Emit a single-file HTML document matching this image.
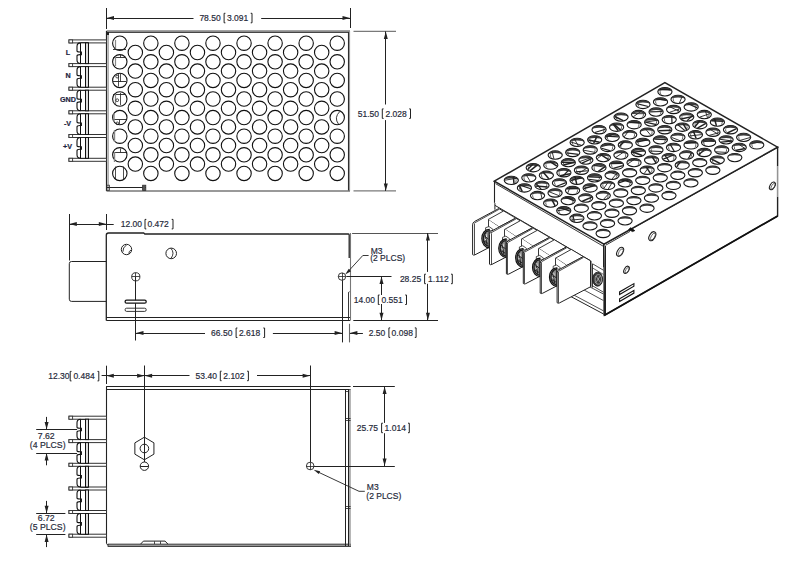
<!DOCTYPE html>
<html><head><meta charset="utf-8"><style>
html,body{margin:0;padding:0;background:#fff;}
svg{display:block;font-family:"Liberation Sans", sans-serif;}
</style></head><body>
<svg width="809" height="564" viewBox="0 0 809 564">
<rect width="809" height="564" fill="#fff"/>
<line x1="106.50" y1="8.00" x2="106.50" y2="29.00" stroke="#222" stroke-width="1" />
<line x1="350.50" y1="8.00" x2="350.50" y2="28.00" stroke="#222" stroke-width="1" />
<line x1="106.50" y1="18.50" x2="193.50" y2="18.50" stroke="#222" stroke-width="1.0" />
<line x1="261.20" y1="18.50" x2="350.00" y2="18.50" stroke="#222" stroke-width="1.0" />
<path d="M106.50,18.10 L114.00,16.10 L114.00,20.10 Z" fill="#222"/>
<path d="M350.00,18.10 L342.50,20.10 L342.50,16.10 Z" fill="#222"/>
<text x="199.40" y="20.90" font-size="8.5" text-anchor="start" font-weight="normal" fill="#262a3a" stroke="#262a3a" stroke-width="0.18">78.50</text>
<path d="M225.40,13.30 H224.10 V22.80 H225.40" fill="none" stroke="#222" stroke-width="1.0" />
<text x="227.00" y="20.90" font-size="8.5" text-anchor="start" font-weight="normal" fill="#262a3a" stroke="#262a3a" stroke-width="0.18">3.091</text>
<path d="M250.70,13.30 H252.00 V22.80 H250.70" fill="none" stroke="#222" stroke-width="1.0" />
<line x1="353.50" y1="31.40" x2="396.00" y2="31.40" stroke="#7a7a7a" stroke-width="1.4" />
<line x1="353.50" y1="190.90" x2="396.00" y2="190.90" stroke="#7a7a7a" stroke-width="1.4" />
<line x1="385.50" y1="31.40" x2="385.50" y2="104.50" stroke="#222" stroke-width="1.0" />
<line x1="385.50" y1="120.10" x2="385.50" y2="190.90" stroke="#222" stroke-width="1.0" />
<path d="M385.80,31.40 L387.80,38.90 L383.80,38.90 Z" fill="#222"/>
<path d="M385.80,190.90 L383.80,183.40 L387.80,183.40 Z" fill="#222"/>
<text x="357.80" y="116.50" font-size="8.5" text-anchor="start" font-weight="normal" fill="#262a3a" stroke="#262a3a" stroke-width="0.18">51.50</text>
<path d="M383.60,108.90 H382.30 V118.40 H383.60" fill="none" stroke="#222" stroke-width="1.0" />
<text x="385.50" y="116.50" font-size="8.5" text-anchor="start" font-weight="normal" fill="#262a3a" stroke="#262a3a" stroke-width="0.18">2.028</text>
<path d="M409.20,108.90 H410.50 V118.40 H409.20" fill="none" stroke="#222" stroke-width="1.0" />
<rect x="106.5" y="30.2" width="243.5" height="2.0" fill="#8c8c8c"/>
<line x1="106.50" y1="32.50" x2="350.00" y2="32.50" stroke="#333" stroke-width="0.9" />
<line x1="106.50" y1="31.00" x2="106.50" y2="191.00" stroke="#222" stroke-width="1.2" />
<line x1="108.10" y1="33.00" x2="108.10" y2="190.00" stroke="#999" stroke-width="1.3" />
<line x1="348.50" y1="32.00" x2="348.50" y2="191.00" stroke="#222" stroke-width="1.1" />
<line x1="349.50" y1="31.00" x2="349.50" y2="191.00" stroke="#999" stroke-width="1.2" />
<line x1="106.50" y1="190.90" x2="350.00" y2="190.90" stroke="#777" stroke-width="1.5" />
<rect x="106" y="32" width="3" height="3" fill="#222"/>
<line x1="107.00" y1="187.50" x2="146.00" y2="187.50" stroke="#222" stroke-width="1.0" />
<rect x="106.8" y="185.2" width="2.6" height="5.4" fill="none" stroke="#333" stroke-width="0.8"/>
<rect x="142.6" y="185.2" width="3.2" height="5.4" fill="#555" stroke="#333" stroke-width="0.8"/>
<circle cx="119.80" cy="43.20" r="7.2" fill="none" stroke="#111" stroke-width="1.1"/>
<circle cx="119.80" cy="61.80" r="7.2" fill="none" stroke="#111" stroke-width="1.1"/>
<circle cx="119.80" cy="80.40" r="7.2" fill="none" stroke="#111" stroke-width="1.1"/>
<circle cx="119.80" cy="99.00" r="7.2" fill="none" stroke="#111" stroke-width="1.1"/>
<circle cx="119.80" cy="117.60" r="7.2" fill="none" stroke="#111" stroke-width="1.1"/>
<circle cx="119.80" cy="136.20" r="7.2" fill="none" stroke="#111" stroke-width="1.1"/>
<circle cx="119.80" cy="154.80" r="7.2" fill="none" stroke="#111" stroke-width="1.1"/>
<circle cx="119.80" cy="173.40" r="7.2" fill="none" stroke="#111" stroke-width="1.1"/>
<circle cx="135.33" cy="52.50" r="7.2" fill="none" stroke="#111" stroke-width="1.1"/>
<circle cx="135.33" cy="71.10" r="7.2" fill="none" stroke="#111" stroke-width="1.1"/>
<circle cx="135.33" cy="89.70" r="7.2" fill="none" stroke="#111" stroke-width="1.1"/>
<circle cx="135.33" cy="108.30" r="7.2" fill="none" stroke="#111" stroke-width="1.1"/>
<circle cx="135.33" cy="126.90" r="7.2" fill="none" stroke="#111" stroke-width="1.1"/>
<circle cx="135.33" cy="145.50" r="7.2" fill="none" stroke="#111" stroke-width="1.1"/>
<circle cx="135.33" cy="164.10" r="7.2" fill="none" stroke="#111" stroke-width="1.1"/>
<circle cx="150.86" cy="43.20" r="7.2" fill="none" stroke="#111" stroke-width="1.1"/>
<circle cx="150.86" cy="61.80" r="7.2" fill="none" stroke="#111" stroke-width="1.1"/>
<circle cx="150.86" cy="80.40" r="7.2" fill="none" stroke="#111" stroke-width="1.1"/>
<circle cx="150.86" cy="99.00" r="7.2" fill="none" stroke="#111" stroke-width="1.1"/>
<circle cx="150.86" cy="117.60" r="7.2" fill="none" stroke="#111" stroke-width="1.1"/>
<circle cx="150.86" cy="136.20" r="7.2" fill="none" stroke="#111" stroke-width="1.1"/>
<circle cx="150.86" cy="154.80" r="7.2" fill="none" stroke="#111" stroke-width="1.1"/>
<circle cx="150.86" cy="173.40" r="7.2" fill="none" stroke="#111" stroke-width="1.1"/>
<circle cx="166.39" cy="52.50" r="7.2" fill="none" stroke="#111" stroke-width="1.1"/>
<circle cx="166.39" cy="71.10" r="7.2" fill="none" stroke="#111" stroke-width="1.1"/>
<circle cx="166.39" cy="89.70" r="7.2" fill="none" stroke="#111" stroke-width="1.1"/>
<circle cx="166.39" cy="108.30" r="7.2" fill="none" stroke="#111" stroke-width="1.1"/>
<circle cx="166.39" cy="126.90" r="7.2" fill="none" stroke="#111" stroke-width="1.1"/>
<circle cx="166.39" cy="145.50" r="7.2" fill="none" stroke="#111" stroke-width="1.1"/>
<circle cx="166.39" cy="164.10" r="7.2" fill="none" stroke="#111" stroke-width="1.1"/>
<circle cx="181.92" cy="43.20" r="7.2" fill="none" stroke="#111" stroke-width="1.1"/>
<circle cx="181.92" cy="61.80" r="7.2" fill="none" stroke="#111" stroke-width="1.1"/>
<circle cx="181.92" cy="80.40" r="7.2" fill="none" stroke="#111" stroke-width="1.1"/>
<circle cx="181.92" cy="99.00" r="7.2" fill="none" stroke="#111" stroke-width="1.1"/>
<circle cx="181.92" cy="117.60" r="7.2" fill="none" stroke="#111" stroke-width="1.1"/>
<circle cx="181.92" cy="136.20" r="7.2" fill="none" stroke="#111" stroke-width="1.1"/>
<circle cx="181.92" cy="154.80" r="7.2" fill="none" stroke="#111" stroke-width="1.1"/>
<circle cx="181.92" cy="173.40" r="7.2" fill="none" stroke="#111" stroke-width="1.1"/>
<circle cx="197.45" cy="52.50" r="7.2" fill="none" stroke="#111" stroke-width="1.1"/>
<circle cx="197.45" cy="71.10" r="7.2" fill="none" stroke="#111" stroke-width="1.1"/>
<circle cx="197.45" cy="89.70" r="7.2" fill="none" stroke="#111" stroke-width="1.1"/>
<circle cx="197.45" cy="108.30" r="7.2" fill="none" stroke="#111" stroke-width="1.1"/>
<circle cx="197.45" cy="126.90" r="7.2" fill="none" stroke="#111" stroke-width="1.1"/>
<circle cx="197.45" cy="145.50" r="7.2" fill="none" stroke="#111" stroke-width="1.1"/>
<circle cx="197.45" cy="164.10" r="7.2" fill="none" stroke="#111" stroke-width="1.1"/>
<circle cx="212.98" cy="43.20" r="7.2" fill="none" stroke="#111" stroke-width="1.1"/>
<circle cx="212.98" cy="61.80" r="7.2" fill="none" stroke="#111" stroke-width="1.1"/>
<circle cx="212.98" cy="80.40" r="7.2" fill="none" stroke="#111" stroke-width="1.1"/>
<circle cx="212.98" cy="99.00" r="7.2" fill="none" stroke="#111" stroke-width="1.1"/>
<circle cx="212.98" cy="117.60" r="7.2" fill="none" stroke="#111" stroke-width="1.1"/>
<circle cx="212.98" cy="136.20" r="7.2" fill="none" stroke="#111" stroke-width="1.1"/>
<circle cx="212.98" cy="154.80" r="7.2" fill="none" stroke="#111" stroke-width="1.1"/>
<circle cx="212.98" cy="173.40" r="7.2" fill="none" stroke="#111" stroke-width="1.1"/>
<circle cx="228.51" cy="52.50" r="7.2" fill="none" stroke="#111" stroke-width="1.1"/>
<circle cx="228.51" cy="71.10" r="7.2" fill="none" stroke="#111" stroke-width="1.1"/>
<circle cx="228.51" cy="89.70" r="7.2" fill="none" stroke="#111" stroke-width="1.1"/>
<circle cx="228.51" cy="108.30" r="7.2" fill="none" stroke="#111" stroke-width="1.1"/>
<circle cx="228.51" cy="126.90" r="7.2" fill="none" stroke="#111" stroke-width="1.1"/>
<circle cx="228.51" cy="145.50" r="7.2" fill="none" stroke="#111" stroke-width="1.1"/>
<circle cx="228.51" cy="164.10" r="7.2" fill="none" stroke="#111" stroke-width="1.1"/>
<circle cx="244.04" cy="43.20" r="7.2" fill="none" stroke="#111" stroke-width="1.1"/>
<circle cx="244.04" cy="61.80" r="7.2" fill="none" stroke="#111" stroke-width="1.1"/>
<circle cx="244.04" cy="80.40" r="7.2" fill="none" stroke="#111" stroke-width="1.1"/>
<circle cx="244.04" cy="99.00" r="7.2" fill="none" stroke="#111" stroke-width="1.1"/>
<circle cx="244.04" cy="117.60" r="7.2" fill="none" stroke="#111" stroke-width="1.1"/>
<circle cx="244.04" cy="136.20" r="7.2" fill="none" stroke="#111" stroke-width="1.1"/>
<circle cx="244.04" cy="154.80" r="7.2" fill="none" stroke="#111" stroke-width="1.1"/>
<circle cx="244.04" cy="173.40" r="7.2" fill="none" stroke="#111" stroke-width="1.1"/>
<circle cx="259.57" cy="52.50" r="7.2" fill="none" stroke="#111" stroke-width="1.1"/>
<circle cx="259.57" cy="71.10" r="7.2" fill="none" stroke="#111" stroke-width="1.1"/>
<circle cx="259.57" cy="89.70" r="7.2" fill="none" stroke="#111" stroke-width="1.1"/>
<circle cx="259.57" cy="108.30" r="7.2" fill="none" stroke="#111" stroke-width="1.1"/>
<circle cx="259.57" cy="126.90" r="7.2" fill="none" stroke="#111" stroke-width="1.1"/>
<circle cx="259.57" cy="145.50" r="7.2" fill="none" stroke="#111" stroke-width="1.1"/>
<circle cx="259.57" cy="164.10" r="7.2" fill="none" stroke="#111" stroke-width="1.1"/>
<circle cx="275.10" cy="43.20" r="7.2" fill="none" stroke="#111" stroke-width="1.1"/>
<circle cx="275.10" cy="61.80" r="7.2" fill="none" stroke="#111" stroke-width="1.1"/>
<circle cx="275.10" cy="80.40" r="7.2" fill="none" stroke="#111" stroke-width="1.1"/>
<circle cx="275.10" cy="99.00" r="7.2" fill="none" stroke="#111" stroke-width="1.1"/>
<circle cx="275.10" cy="117.60" r="7.2" fill="none" stroke="#111" stroke-width="1.1"/>
<circle cx="275.10" cy="136.20" r="7.2" fill="none" stroke="#111" stroke-width="1.1"/>
<circle cx="275.10" cy="154.80" r="7.2" fill="none" stroke="#111" stroke-width="1.1"/>
<circle cx="275.10" cy="173.40" r="7.2" fill="none" stroke="#111" stroke-width="1.1"/>
<circle cx="290.63" cy="52.50" r="7.2" fill="none" stroke="#111" stroke-width="1.1"/>
<circle cx="290.63" cy="71.10" r="7.2" fill="none" stroke="#111" stroke-width="1.1"/>
<circle cx="290.63" cy="89.70" r="7.2" fill="none" stroke="#111" stroke-width="1.1"/>
<circle cx="290.63" cy="108.30" r="7.2" fill="none" stroke="#111" stroke-width="1.1"/>
<circle cx="290.63" cy="126.90" r="7.2" fill="none" stroke="#111" stroke-width="1.1"/>
<circle cx="290.63" cy="145.50" r="7.2" fill="none" stroke="#111" stroke-width="1.1"/>
<circle cx="290.63" cy="164.10" r="7.2" fill="none" stroke="#111" stroke-width="1.1"/>
<circle cx="306.16" cy="43.20" r="7.2" fill="none" stroke="#111" stroke-width="1.1"/>
<circle cx="306.16" cy="61.80" r="7.2" fill="none" stroke="#111" stroke-width="1.1"/>
<circle cx="306.16" cy="80.40" r="7.2" fill="none" stroke="#111" stroke-width="1.1"/>
<circle cx="306.16" cy="99.00" r="7.2" fill="none" stroke="#111" stroke-width="1.1"/>
<circle cx="306.16" cy="117.60" r="7.2" fill="none" stroke="#111" stroke-width="1.1"/>
<circle cx="306.16" cy="136.20" r="7.2" fill="none" stroke="#111" stroke-width="1.1"/>
<circle cx="306.16" cy="154.80" r="7.2" fill="none" stroke="#111" stroke-width="1.1"/>
<circle cx="306.16" cy="173.40" r="7.2" fill="none" stroke="#111" stroke-width="1.1"/>
<circle cx="321.69" cy="52.50" r="7.2" fill="none" stroke="#111" stroke-width="1.1"/>
<circle cx="321.69" cy="71.10" r="7.2" fill="none" stroke="#111" stroke-width="1.1"/>
<circle cx="321.69" cy="89.70" r="7.2" fill="none" stroke="#111" stroke-width="1.1"/>
<circle cx="321.69" cy="108.30" r="7.2" fill="none" stroke="#111" stroke-width="1.1"/>
<circle cx="321.69" cy="126.90" r="7.2" fill="none" stroke="#111" stroke-width="1.1"/>
<circle cx="321.69" cy="145.50" r="7.2" fill="none" stroke="#111" stroke-width="1.1"/>
<circle cx="321.69" cy="164.10" r="7.2" fill="none" stroke="#111" stroke-width="1.1"/>
<circle cx="337.22" cy="43.20" r="7.2" fill="none" stroke="#111" stroke-width="1.1"/>
<circle cx="337.22" cy="61.80" r="7.2" fill="none" stroke="#111" stroke-width="1.1"/>
<circle cx="337.22" cy="80.40" r="7.2" fill="none" stroke="#111" stroke-width="1.1"/>
<circle cx="337.22" cy="99.00" r="7.2" fill="none" stroke="#111" stroke-width="1.1"/>
<circle cx="337.22" cy="117.60" r="7.2" fill="none" stroke="#111" stroke-width="1.1"/>
<circle cx="337.22" cy="136.20" r="7.2" fill="none" stroke="#111" stroke-width="1.1"/>
<circle cx="337.22" cy="154.80" r="7.2" fill="none" stroke="#111" stroke-width="1.1"/>
<circle cx="337.22" cy="173.40" r="7.2" fill="none" stroke="#111" stroke-width="1.1"/>
<line x1="115.50" y1="39.90" x2="115.50" y2="48.40" stroke="#888" stroke-width="1.2" />
<line x1="113.00" y1="49.50" x2="126.00" y2="49.50" stroke="#222" stroke-width="0.9" />
<line x1="113.00" y1="57.50" x2="126.00" y2="57.50" stroke="#222" stroke-width="0.9" />
<line x1="120.50" y1="55.00" x2="120.50" y2="57.30" stroke="#222" stroke-width="0.8" />
<line x1="115.50" y1="57.00" x2="115.50" y2="66.00" stroke="#888" stroke-width="1.2" />
<line x1="118.50" y1="74.00" x2="118.50" y2="86.50" stroke="#222" stroke-width="0.8" />
<line x1="113.00" y1="81.50" x2="126.00" y2="81.50" stroke="#222" stroke-width="0.9" />
<line x1="120.50" y1="74.00" x2="120.50" y2="82.00" stroke="#222" stroke-width="0.8" />
<circle cx="117.2" cy="76.6" r="1.4" fill="none" stroke="#222" stroke-width="0.8"/>
<line x1="120.50" y1="93.00" x2="120.50" y2="105.00" stroke="#222" stroke-width="0.8" />
<line x1="113.00" y1="94.50" x2="126.00" y2="94.50" stroke="#222" stroke-width="0.9" />
<line x1="115.50" y1="94.00" x2="115.50" y2="104.00" stroke="#888" stroke-width="1.2" />
<circle cx="117.2" cy="100.2" r="1.4" fill="none" stroke="#222" stroke-width="0.8"/>
<line x1="113.00" y1="119.50" x2="126.00" y2="119.50" stroke="#222" stroke-width="0.9" />
<line x1="119.50" y1="119.80" x2="119.50" y2="124.00" stroke="#222" stroke-width="0.8" />
<line x1="114.00" y1="113.00" x2="114.00" y2="122.00" stroke="#888" stroke-width="1.4" />
<circle cx="117.3" cy="123.3" r="1.3" fill="none" stroke="#222" stroke-width="0.8"/>
<line x1="114.50" y1="130.00" x2="114.50" y2="142.00" stroke="#888" stroke-width="1.4" />
<line x1="113.00" y1="152.50" x2="126.00" y2="152.50" stroke="#222" stroke-width="0.9" />
<line x1="120.50" y1="148.50" x2="120.50" y2="152.20" stroke="#222" stroke-width="0.8" />
<line x1="114.50" y1="152.00" x2="114.50" y2="162.00" stroke="#888" stroke-width="1.4" />
<line x1="115.50" y1="166.50" x2="115.50" y2="179.50" stroke="#222" stroke-width="0.8" />
<line x1="123.50" y1="166.50" x2="123.50" y2="179.50" stroke="#222" stroke-width="0.8" />
<path d="M339.9,111.4 Q333.5,117.6 338.6,124.3" fill="none" stroke="#222" stroke-width="0.9" />
<rect x="69" y="39.90" width="37.5" height="3" fill="#fff" stroke="#333" stroke-width="1.0"/>
<rect x="69" y="39.90" width="3.6" height="3" fill="#fff" stroke="#333" stroke-width="0.9"/>
<rect x="69" y="63.60" width="37.5" height="3" fill="#fff" stroke="#333" stroke-width="1.0"/>
<rect x="69" y="63.60" width="3.6" height="3" fill="#fff" stroke="#333" stroke-width="0.9"/>
<rect x="69" y="87.20" width="37.5" height="3" fill="#fff" stroke="#333" stroke-width="1.0"/>
<rect x="69" y="87.20" width="3.6" height="3" fill="#fff" stroke="#333" stroke-width="0.9"/>
<rect x="69" y="110.80" width="37.5" height="3" fill="#fff" stroke="#333" stroke-width="1.0"/>
<rect x="69" y="110.80" width="3.6" height="3" fill="#fff" stroke="#333" stroke-width="0.9"/>
<rect x="69" y="134.50" width="37.5" height="3" fill="#fff" stroke="#333" stroke-width="1.0"/>
<rect x="69" y="134.50" width="3.6" height="3" fill="#fff" stroke="#333" stroke-width="0.9"/>
<rect x="69" y="158.30" width="37.5" height="3" fill="#fff" stroke="#333" stroke-width="1.0"/>
<rect x="69" y="158.30" width="3.6" height="3" fill="#fff" stroke="#333" stroke-width="0.9"/>
<path d="M80.6,42.90 Q77,42.90 77,46.40 V51.05 Q77,52.05 80,52.05 H81.4 V54.65 H80 Q77,54.65 77,56.05 V60.10 Q77,63.60 80.6,63.60" fill="none" stroke="#111" stroke-width="1.1" />
<line x1="80.50" y1="42.90" x2="80.50" y2="63.60" stroke="#111" stroke-width="1.0" />
<line x1="80.60" y1="42.50" x2="88.50" y2="42.50" stroke="#222" stroke-width="0.9" />
<line x1="80.60" y1="63.50" x2="88.50" y2="63.50" stroke="#222" stroke-width="0.9" />
<rect x="85.5" y="42.90" width="3" height="20.70" fill="#ddd" stroke="#111" stroke-width="1.0"/>
<path d="M80.6,66.60 Q77,66.60 77,70.10 V74.70 Q77,75.70 80,75.70 H81.4 V78.30 H80 Q77,78.30 77,79.70 V83.70 Q77,87.20 80.6,87.20" fill="none" stroke="#111" stroke-width="1.1" />
<line x1="80.50" y1="66.60" x2="80.50" y2="87.20" stroke="#111" stroke-width="1.0" />
<line x1="80.60" y1="66.50" x2="88.50" y2="66.50" stroke="#222" stroke-width="0.9" />
<line x1="80.60" y1="87.50" x2="88.50" y2="87.50" stroke="#222" stroke-width="0.9" />
<rect x="85.5" y="66.60" width="3" height="20.60" fill="#ddd" stroke="#111" stroke-width="1.0"/>
<path d="M80.6,90.20 Q77,90.20 77,93.70 V98.30 Q77,99.30 80,99.30 H81.4 V101.90 H80 Q77,101.90 77,103.30 V107.30 Q77,110.80 80.6,110.80" fill="none" stroke="#111" stroke-width="1.1" />
<line x1="80.50" y1="90.20" x2="80.50" y2="110.80" stroke="#111" stroke-width="1.0" />
<line x1="80.60" y1="90.50" x2="88.50" y2="90.50" stroke="#222" stroke-width="0.9" />
<line x1="80.60" y1="110.50" x2="88.50" y2="110.50" stroke="#222" stroke-width="0.9" />
<rect x="85.5" y="90.20" width="3" height="20.60" fill="#ddd" stroke="#111" stroke-width="1.0"/>
<path d="M80.6,113.80 Q77,113.80 77,117.30 V121.95 Q77,122.95 80,122.95 H81.4 V125.55 H80 Q77,125.55 77,126.95 V131.00 Q77,134.50 80.6,134.50" fill="none" stroke="#111" stroke-width="1.1" />
<line x1="80.50" y1="113.80" x2="80.50" y2="134.50" stroke="#111" stroke-width="1.0" />
<line x1="80.60" y1="113.50" x2="88.50" y2="113.50" stroke="#222" stroke-width="0.9" />
<line x1="80.60" y1="134.50" x2="88.50" y2="134.50" stroke="#222" stroke-width="0.9" />
<rect x="85.5" y="113.80" width="3" height="20.70" fill="#ddd" stroke="#111" stroke-width="1.0"/>
<path d="M80.6,137.50 Q77,137.50 77,141.00 V145.70 Q77,146.70 80,146.70 H81.4 V149.30 H80 Q77,149.30 77,150.70 V154.80 Q77,158.30 80.6,158.30" fill="none" stroke="#111" stroke-width="1.1" />
<line x1="80.50" y1="137.50" x2="80.50" y2="158.30" stroke="#111" stroke-width="1.0" />
<line x1="80.60" y1="137.50" x2="88.50" y2="137.50" stroke="#222" stroke-width="0.9" />
<line x1="80.60" y1="158.50" x2="88.50" y2="158.50" stroke="#222" stroke-width="0.9" />
<rect x="85.5" y="137.50" width="3" height="20.80" fill="#ddd" stroke="#111" stroke-width="1.0"/>
<text x="68.00" y="54.60" font-size="7.2" text-anchor="middle" font-weight="bold" fill="#1c2440" stroke="#1c2440" stroke-width="0.18">L</text>
<text x="68.00" y="78.30" font-size="7.2" text-anchor="middle" font-weight="bold" fill="#1c2440" stroke="#1c2440" stroke-width="0.18">N</text>
<text x="68.00" y="102.00" font-size="7.2" text-anchor="middle" font-weight="bold" fill="#1c2440" stroke="#1c2440" stroke-width="0.18">GND</text>
<text x="67.50" y="125.60" font-size="7.2" text-anchor="middle" font-weight="bold" fill="#1c2440" stroke="#1c2440" stroke-width="0.18">-V</text>
<text x="67.50" y="149.30" font-size="7.2" text-anchor="middle" font-weight="bold" fill="#1c2440" stroke="#1c2440" stroke-width="0.18">+V</text>
<line x1="69.50" y1="214.00" x2="69.50" y2="260.50" stroke="#222" stroke-width="1" />
<line x1="106.50" y1="214.00" x2="106.50" y2="230.00" stroke="#222" stroke-width="1" />
<line x1="69.30" y1="224.50" x2="113.70" y2="224.50" stroke="#222" stroke-width="1.0" />
<path d="M69.30,224.00 L76.80,222.00 L76.80,226.00 Z" fill="#222"/>
<path d="M106.30,224.00 L98.80,226.00 L98.80,222.00 Z" fill="#222"/>
<text x="120.80" y="227.00" font-size="8.5" text-anchor="start" font-weight="normal" fill="#262a3a" stroke="#262a3a" stroke-width="0.18">12.00</text>
<path d="M146.30,219.40 H145.00 V228.90 H146.30" fill="none" stroke="#222" stroke-width="1.0" />
<text x="147.50" y="227.00" font-size="8.5" text-anchor="start" font-weight="normal" fill="#262a3a" stroke="#262a3a" stroke-width="0.18">0.472</text>
<path d="M171.70,219.40 H173.00 V228.90 H171.70" fill="none" stroke="#222" stroke-width="1.0" />
<path d="M106.3,261.5 H71.5 Q69.3,261.5 69.3,263.7 V299.2 Q69.3,301.4 71.5,301.4 H106.3" fill="none" stroke="#222" stroke-width="1.0" />
<path d="M106.3,320.5 V235.2 Q106.3,233 108.5,233 H143.7 L144.8,234 H348.4 Q349.2,234 349.2,235 V258" fill="none" stroke="#222" stroke-width="1.3" />
<line x1="350.50" y1="233.00" x2="350.50" y2="320.50" stroke="#777" stroke-width="1.1" />
<path d="M348.6,293 Q348.6,292 349.4,291.5" fill="none" stroke="#222" stroke-width="0.9" />
<line x1="348.50" y1="292.50" x2="348.50" y2="320.20" stroke="#222" stroke-width="0.9" />
<line x1="106.30" y1="317.50" x2="350.10" y2="317.50" stroke="#222" stroke-width="1.0" />
<line x1="106.30" y1="320.50" x2="350.10" y2="320.50" stroke="#222" stroke-width="1.2" />
<circle cx="126.5" cy="249.5" r="5.2" fill="none" stroke="#222" stroke-width="1"/>
<path d="M126.4,245.0 Q122.6,247.6 122.9,251.8" fill="none" stroke="#222" stroke-width="0.9" />
<path d="M131.0,250.0 Q128.6,251.2 128.9,253.9" fill="none" stroke="#222" stroke-width="0.9" />
<circle cx="171.2" cy="253.4" r="5.3" fill="none" stroke="#222" stroke-width="1"/>
<path d="M170.8,248.2 Q175.2,253 170.8,258.6" fill="none" stroke="#222" stroke-width="0.9" />
<circle cx="135.8" cy="276.8" r="4.1" fill="none" stroke="#222" stroke-width="0.9"/>
<line x1="131.70" y1="276.50" x2="139.90" y2="276.50" stroke="#222" stroke-width="0.8" />
<line x1="135.50" y1="272.70" x2="135.50" y2="276.80" stroke="#222" stroke-width="0.8" />
<line x1="135.50" y1="276.80" x2="135.50" y2="340.50" stroke="#222" stroke-width="1.0" />
<rect x="125.1" y="300.2" width="21.1" height="3.0" rx="1.5" fill="#fff" stroke="#111" stroke-width="1.3"/>
<rect x="125.1" y="308.2" width="21.1" height="3.2" rx="1.5" fill="none" stroke="#222" stroke-width="0.9"/>
<line x1="136.00" y1="333.50" x2="205.00" y2="333.50" stroke="#222" stroke-width="1.0" />
<line x1="272.90" y1="333.50" x2="342.10" y2="333.50" stroke="#222" stroke-width="1.0" />
<path d="M136.00,333.10 L143.50,331.10 L143.50,335.10 Z" fill="#222"/>
<path d="M342.10,333.10 L334.60,335.10 L334.60,331.10 Z" fill="#222"/>
<text x="211.10" y="335.60" font-size="8.5" text-anchor="start" font-weight="normal" fill="#262a3a" stroke="#262a3a" stroke-width="0.18">66.50</text>
<path d="M237.40,328.00 H236.10 V337.50 H237.40" fill="none" stroke="#222" stroke-width="1.0" />
<text x="238.90" y="335.60" font-size="8.5" text-anchor="start" font-weight="normal" fill="#262a3a" stroke="#262a3a" stroke-width="0.18">2.618</text>
<path d="M263.30,328.00 H264.60 V337.50 H263.30" fill="none" stroke="#222" stroke-width="1.0" />
<circle cx="342" cy="276.6" r="3.7" fill="#fff" stroke="#222" stroke-width="0.9"/>
<line x1="338.30" y1="276.50" x2="345.70" y2="276.50" stroke="#222" stroke-width="0.8" />
<line x1="342.50" y1="272.90" x2="342.50" y2="280.30" stroke="#222" stroke-width="0.8" />
<line x1="342.50" y1="280.30" x2="342.50" y2="342.40" stroke="#222" stroke-width="1.0" />
<line x1="349.50" y1="323.80" x2="349.50" y2="342.40" stroke="#666" stroke-width="1.1" />
<line x1="346.30" y1="276.50" x2="391.50" y2="276.50" stroke="#222" stroke-width="1.0" />
<path d="M368.6,255.5 H362.8 L347.5,272.2" fill="none" stroke="#222" stroke-width="0.9" />
<path d="M345.20,274.50 L348.79,268.85 L351.00,271.16 Z" fill="#222"/>
<text x="370.70" y="253.70" font-size="8.5" text-anchor="start" font-weight="normal" fill="#262a3a" stroke="#262a3a" stroke-width="0.18">M3</text>
<text x="370.20" y="261.40" font-size="8.5" text-anchor="start" font-weight="normal" fill="#262a3a" stroke="#262a3a" stroke-width="0.18">(2 PLCS)</text>
<line x1="352.10" y1="233.50" x2="438.00" y2="233.50" stroke="#555" stroke-width="1.2" />
<line x1="353.30" y1="320.50" x2="438.00" y2="320.50" stroke="#222" stroke-width="1.1" />
<line x1="427.50" y1="233.00" x2="427.50" y2="271.90" stroke="#222" stroke-width="1.0" />
<line x1="427.50" y1="283.80" x2="427.50" y2="320.30" stroke="#222" stroke-width="1.0" />
<path d="M427.90,233.00 L429.90,240.50 L425.90,240.50 Z" fill="#222"/>
<path d="M427.90,320.30 L425.90,312.80 L429.90,312.80 Z" fill="#222"/>
<text x="399.90" y="281.80" font-size="8.5" text-anchor="start" font-weight="normal" fill="#262a3a" stroke="#262a3a" stroke-width="0.18">28.25</text>
<path d="M425.90,274.20 H424.60 V283.70 H425.90" fill="none" stroke="#222" stroke-width="1.0" />
<text x="428.10" y="281.80" font-size="8.5" text-anchor="start" font-weight="normal" fill="#262a3a" stroke="#262a3a" stroke-width="0.18">1.112</text>
<path d="M451.00,274.20 H452.30 V283.70 H451.00" fill="none" stroke="#222" stroke-width="1.0" />
<line x1="381.50" y1="276.60" x2="381.50" y2="295.00" stroke="#222" stroke-width="1.0" />
<line x1="381.50" y1="304.00" x2="381.50" y2="320.30" stroke="#222" stroke-width="1.0" />
<path d="M381.50,276.60 L383.50,284.10 L379.50,284.10 Z" fill="#222"/>
<path d="M381.50,320.30 L379.50,312.80 L383.50,312.80 Z" fill="#222"/>
<text x="353.80" y="302.60" font-size="8.5" text-anchor="start" font-weight="normal" fill="#262a3a" stroke="#262a3a" stroke-width="0.18">14.00</text>
<path d="M379.60,295.00 H378.30 V304.50 H379.60" fill="none" stroke="#222" stroke-width="1.0" />
<text x="381.50" y="302.60" font-size="8.5" text-anchor="start" font-weight="normal" fill="#262a3a" stroke="#262a3a" stroke-width="0.18">0.551</text>
<path d="M405.20,295.00 H406.50 V304.50 H405.20" fill="none" stroke="#222" stroke-width="1.0" />
<line x1="335.50" y1="333.50" x2="342.10" y2="333.50" stroke="#222" stroke-width="1.0" />
<path d="M349.90,333.10 L357.40,331.10 L357.40,335.10 Z" fill="#222"/>
<line x1="349.90" y1="333.50" x2="362.90" y2="333.50" stroke="#222" stroke-width="1.0" />
<text x="368.70" y="335.50" font-size="8.5" text-anchor="start" font-weight="normal" fill="#262a3a" stroke="#262a3a" stroke-width="0.18">2.50</text>
<path d="M390.20,327.90 H388.90 V337.40 H390.20" fill="none" stroke="#222" stroke-width="1.0" />
<text x="391.60" y="335.50" font-size="8.5" text-anchor="start" font-weight="normal" fill="#262a3a" stroke="#262a3a" stroke-width="0.18">0.098</text>
<path d="M414.80,327.90 H416.10 V337.40 H414.80" fill="none" stroke="#222" stroke-width="1.0" />
<line x1="106.50" y1="365.70" x2="106.50" y2="384.00" stroke="#222" stroke-width="1" />
<line x1="101.60" y1="375.50" x2="189.50" y2="375.50" stroke="#222" stroke-width="1.0" />
<line x1="257.00" y1="375.50" x2="310.10" y2="375.50" stroke="#222" stroke-width="1.0" />
<path d="M106.30,375.80 L113.80,373.80 L113.80,377.80 Z" fill="#222"/>
<path d="M144.60,375.80 L137.10,377.80 L137.10,373.80 Z" fill="#222"/>
<path d="M144.60,375.80 L152.10,373.80 L152.10,377.80 Z" fill="#222"/>
<path d="M310.10,375.80 L302.60,377.80 L302.60,373.80 Z" fill="#222"/>
<line x1="144.50" y1="365.50" x2="144.50" y2="437.00" stroke="#222" stroke-width="1.0" />
<line x1="310.50" y1="365.50" x2="310.50" y2="462.00" stroke="#222" stroke-width="1.0" />
<text x="48.20" y="379.00" font-size="8.5" text-anchor="start" font-weight="normal" fill="#262a3a" stroke="#262a3a" stroke-width="0.18">12.30</text>
<path d="M71.50,371.40 H70.20 V380.90 H71.50" fill="none" stroke="#222" stroke-width="1.0" />
<text x="73.40" y="379.00" font-size="8.5" text-anchor="start" font-weight="normal" fill="#262a3a" stroke="#262a3a" stroke-width="0.18">0.484</text>
<path d="M97.50,371.40 H98.80 V380.90 H97.50" fill="none" stroke="#222" stroke-width="1.0" />
<text x="195.60" y="378.80" font-size="8.5" text-anchor="start" font-weight="normal" fill="#262a3a" stroke="#262a3a" stroke-width="0.18">53.40</text>
<path d="M221.60,371.20 H220.30 V380.70 H221.60" fill="none" stroke="#222" stroke-width="1.0" />
<text x="223.30" y="378.80" font-size="8.5" text-anchor="start" font-weight="normal" fill="#262a3a" stroke="#262a3a" stroke-width="0.18">2.102</text>
<path d="M247.10,371.20 H248.40 V380.70 H247.10" fill="none" stroke="#222" stroke-width="1.0" />
<line x1="106.50" y1="386.50" x2="106.50" y2="543.40" stroke="#222" stroke-width="1.1" />
<path d="M106.1,543.4 L108.3,545.4" fill="none" stroke="#222" stroke-width="0.9" />
<line x1="106.10" y1="386.50" x2="350.60" y2="386.50" stroke="#222" stroke-width="1.1" />
<line x1="106.10" y1="389.50" x2="350.60" y2="389.50" stroke="#222" stroke-width="1.0" />
<rect x="108" y="544.1" width="242.6" height="2.4" fill="#999" stroke="#222" stroke-width="0.8"/>
<line x1="345.50" y1="389.00" x2="345.50" y2="546.00" stroke="#222" stroke-width="1.0" />
<rect x="349.2" y="389.5" width="1.5" height="156.6" fill="#999"/>
<line x1="348.50" y1="389.00" x2="348.50" y2="546.00" stroke="#222" stroke-width="1.0" />
<line x1="345.50" y1="418.50" x2="350.60" y2="418.50" stroke="#222" stroke-width="0.8" />
<line x1="345.50" y1="420.50" x2="350.60" y2="420.50" stroke="#222" stroke-width="0.8" />
<line x1="345.50" y1="506.50" x2="350.60" y2="506.50" stroke="#222" stroke-width="0.8" />
<line x1="345.50" y1="508.50" x2="350.60" y2="508.50" stroke="#222" stroke-width="0.8" />
<line x1="345.50" y1="391.50" x2="348.70" y2="391.50" stroke="#222" stroke-width="0.8" />
<path d="M140.6,544.1 L143.4,541.1 H165.1 L167.9,544.1" fill="none" stroke="#222" stroke-width="1.0" />
<line x1="154.50" y1="541.30" x2="154.50" y2="544.00" stroke="#222" stroke-width="0.8" />
<line x1="160.50" y1="541.30" x2="160.50" y2="544.00" stroke="#222" stroke-width="0.8" />
<rect x="69" y="416.20" width="37.5" height="3" fill="#fff" stroke="#333" stroke-width="1.0"/>
<rect x="69" y="416.20" width="3.6" height="3" fill="#fff" stroke="#333" stroke-width="0.9"/>
<rect x="69" y="439.60" width="37.5" height="3" fill="#fff" stroke="#333" stroke-width="1.0"/>
<rect x="69" y="439.60" width="3.6" height="3" fill="#fff" stroke="#333" stroke-width="0.9"/>
<rect x="69" y="463.30" width="37.5" height="3" fill="#fff" stroke="#333" stroke-width="1.0"/>
<rect x="69" y="463.30" width="3.6" height="3" fill="#fff" stroke="#333" stroke-width="0.9"/>
<rect x="69" y="487.00" width="37.5" height="3" fill="#fff" stroke="#333" stroke-width="1.0"/>
<rect x="69" y="487.00" width="3.6" height="3" fill="#fff" stroke="#333" stroke-width="0.9"/>
<rect x="69" y="510.50" width="37.5" height="3" fill="#fff" stroke="#333" stroke-width="1.0"/>
<rect x="69" y="510.50" width="3.6" height="3" fill="#fff" stroke="#333" stroke-width="0.9"/>
<rect x="69" y="534.20" width="37.5" height="3" fill="#fff" stroke="#333" stroke-width="1.0"/>
<rect x="69" y="534.20" width="3.6" height="3" fill="#fff" stroke="#333" stroke-width="0.9"/>
<path d="M80.6,419.20 Q77,419.20 77,422.70 V427.20 Q77,428.20 80,428.20 H81.4 V430.80 H80 Q77,430.80 77,432.20 V436.10 Q77,439.60 80.6,439.60" fill="none" stroke="#111" stroke-width="1.1" />
<line x1="80.50" y1="419.20" x2="80.50" y2="439.60" stroke="#111" stroke-width="1.0" />
<line x1="80.60" y1="419.50" x2="88.50" y2="419.50" stroke="#222" stroke-width="0.9" />
<line x1="80.60" y1="439.50" x2="88.50" y2="439.50" stroke="#222" stroke-width="0.9" />
<rect x="85.5" y="419.20" width="3" height="20.40" fill="#ddd" stroke="#111" stroke-width="1.0"/>
<path d="M80.6,442.60 Q77,442.60 77,446.10 V450.75 Q77,451.75 80,451.75 H81.4 V454.35 H80 Q77,454.35 77,455.75 V459.80 Q77,463.30 80.6,463.30" fill="none" stroke="#111" stroke-width="1.1" />
<line x1="80.50" y1="442.60" x2="80.50" y2="463.30" stroke="#111" stroke-width="1.0" />
<line x1="80.60" y1="442.50" x2="88.50" y2="442.50" stroke="#222" stroke-width="0.9" />
<line x1="80.60" y1="463.50" x2="88.50" y2="463.50" stroke="#222" stroke-width="0.9" />
<rect x="85.5" y="442.60" width="3" height="20.70" fill="#ddd" stroke="#111" stroke-width="1.0"/>
<path d="M80.6,466.30 Q77,466.30 77,469.80 V474.45 Q77,475.45 80,475.45 H81.4 V478.05 H80 Q77,478.05 77,479.45 V483.50 Q77,487.00 80.6,487.00" fill="none" stroke="#111" stroke-width="1.1" />
<line x1="80.50" y1="466.30" x2="80.50" y2="487.00" stroke="#111" stroke-width="1.0" />
<line x1="80.60" y1="466.50" x2="88.50" y2="466.50" stroke="#222" stroke-width="0.9" />
<line x1="80.60" y1="487.50" x2="88.50" y2="487.50" stroke="#222" stroke-width="0.9" />
<rect x="85.5" y="466.30" width="3" height="20.70" fill="#ddd" stroke="#111" stroke-width="1.0"/>
<path d="M80.6,490.00 Q77,490.00 77,493.50 V498.05 Q77,499.05 80,499.05 H81.4 V501.65 H80 Q77,501.65 77,503.05 V507.00 Q77,510.50 80.6,510.50" fill="none" stroke="#111" stroke-width="1.1" />
<line x1="80.50" y1="490.00" x2="80.50" y2="510.50" stroke="#111" stroke-width="1.0" />
<line x1="80.60" y1="490.50" x2="88.50" y2="490.50" stroke="#222" stroke-width="0.9" />
<line x1="80.60" y1="510.50" x2="88.50" y2="510.50" stroke="#222" stroke-width="0.9" />
<rect x="85.5" y="490.00" width="3" height="20.50" fill="#ddd" stroke="#111" stroke-width="1.0"/>
<path d="M80.6,513.50 Q77,513.50 77,517.00 V521.65 Q77,522.65 80,522.65 H81.4 V525.25 H80 Q77,525.25 77,526.65 V530.70 Q77,534.20 80.6,534.20" fill="none" stroke="#111" stroke-width="1.1" />
<line x1="80.50" y1="513.50" x2="80.50" y2="534.20" stroke="#111" stroke-width="1.0" />
<line x1="80.60" y1="513.50" x2="88.50" y2="513.50" stroke="#222" stroke-width="0.9" />
<line x1="80.60" y1="534.50" x2="88.50" y2="534.50" stroke="#222" stroke-width="0.9" />
<rect x="85.5" y="513.50" width="3" height="20.70" fill="#ddd" stroke="#111" stroke-width="1.0"/>
<path d="M144.40,437.20 L153.93,442.85 L153.93,454.15 L144.40,459.80 L134.87,454.15 L134.87,442.85 Z" fill="none" stroke="#222" stroke-width="1.0" />
<circle cx="144.4" cy="448.5" r="4.3" fill="none" stroke="#222" stroke-width="1"/>
<line x1="144.50" y1="437.00" x2="144.50" y2="462.00" stroke="#222" stroke-width="1.0" />
<circle cx="144.4" cy="466.2" r="4.2" fill="#fff" stroke="#222" stroke-width="1"/>
<line x1="140.20" y1="466.50" x2="148.60" y2="466.50" stroke="#222" stroke-width="1.0" />
<line x1="36.20" y1="429.50" x2="77.10" y2="429.50" stroke="#222" stroke-width="1.0" />
<line x1="36.20" y1="453.50" x2="77.10" y2="453.50" stroke="#222" stroke-width="1.0" />
<line x1="46.50" y1="416.90" x2="46.50" y2="429.40" stroke="#222" stroke-width="1.0" />
<path d="M46.60,429.40 L44.60,421.90 L48.60,421.90 Z" fill="#222"/>
<line x1="46.50" y1="453.10" x2="46.50" y2="465.30" stroke="#222" stroke-width="1.0" />
<path d="M46.60,453.10 L48.60,460.60 L44.60,460.60 Z" fill="#222"/>
<text x="37.80" y="438.70" font-size="8.7" text-anchor="start" font-weight="normal" fill="#262a3a" stroke="#262a3a" stroke-width="0.18">7.62</text>
<text x="29.80" y="448.30" font-size="8.7" text-anchor="start" font-weight="normal" fill="#262a3a" stroke="#262a3a" stroke-width="0.18">(4 PLCS)</text>
<line x1="36.20" y1="513.50" x2="65.40" y2="513.50" stroke="#222" stroke-width="1.0" />
<line x1="36.20" y1="534.50" x2="65.40" y2="534.50" stroke="#222" stroke-width="1.0" />
<line x1="46.50" y1="500.90" x2="46.50" y2="513.30" stroke="#222" stroke-width="1.0" />
<path d="M46.60,513.30 L44.60,505.80 L48.60,505.80 Z" fill="#222"/>
<line x1="46.50" y1="534.40" x2="46.50" y2="547.10" stroke="#222" stroke-width="1.0" />
<path d="M46.60,534.40 L48.60,541.90 L44.60,541.90 Z" fill="#222"/>
<text x="37.80" y="520.90" font-size="8.7" text-anchor="start" font-weight="normal" fill="#262a3a" stroke="#262a3a" stroke-width="0.18">6.72</text>
<text x="29.80" y="530.10" font-size="8.7" text-anchor="start" font-weight="normal" fill="#262a3a" stroke="#262a3a" stroke-width="0.18">(5 PLCS)</text>
<circle cx="310.2" cy="466.0" r="3.8" fill="#fff" stroke="#222" stroke-width="0.9"/>
<line x1="306.40" y1="466.50" x2="314.00" y2="466.50" stroke="#222" stroke-width="0.8" />
<line x1="310.50" y1="462.20" x2="310.50" y2="469.80" stroke="#222" stroke-width="0.8" />
<line x1="314.00" y1="466.50" x2="394.80" y2="466.50" stroke="#222" stroke-width="1.0" />
<line x1="353.00" y1="386.50" x2="394.80" y2="386.50" stroke="#222" stroke-width="1.0" />
<line x1="384.50" y1="386.60" x2="384.50" y2="422.90" stroke="#222" stroke-width="1.0" />
<line x1="384.50" y1="433.20" x2="384.50" y2="466.00" stroke="#222" stroke-width="1.0" />
<path d="M384.60,386.60 L386.60,394.10 L382.60,394.10 Z" fill="#222"/>
<path d="M384.60,466.00 L382.60,458.50 L386.60,458.50 Z" fill="#222"/>
<text x="356.70" y="430.80" font-size="8.5" text-anchor="start" font-weight="normal" fill="#262a3a" stroke="#262a3a" stroke-width="0.18">25.75</text>
<path d="M382.90,423.20 H381.60 V432.70 H382.90" fill="none" stroke="#222" stroke-width="1.0" />
<text x="384.60" y="430.80" font-size="8.5" text-anchor="start" font-weight="normal" fill="#262a3a" stroke="#262a3a" stroke-width="0.18">1.014</text>
<path d="M408.00,423.20 H409.30 V432.70 H408.00" fill="none" stroke="#222" stroke-width="1.0" />
<path d="M364.8,491.3 H359 L317,471.5" fill="none" stroke="#222" stroke-width="0.9" />
<path d="M313.60,469.80 L320.15,471.16 L318.78,474.05 Z" fill="#222"/>
<text x="366.80" y="490.00" font-size="8.5" text-anchor="start" font-weight="normal" fill="#262a3a" stroke="#262a3a" stroke-width="0.18">M3</text>
<text x="366.30" y="498.60" font-size="8.5" text-anchor="start" font-weight="normal" fill="#262a3a" stroke="#262a3a" stroke-width="0.18">(2 PLCS)</text>
<path d="M603.90,244.10 L777.60,147.20 L777.60,216.00 L604.50,315.30 Z" fill="#fff" stroke="#222" stroke-width="1.4" />
<line x1="603.50" y1="244.50" x2="603.50" y2="315.30" stroke="#222" stroke-width="1.0" />
<line x1="605.50" y1="246.00" x2="605.50" y2="314.50" stroke="#222" stroke-width="1.0" />
<line x1="604.50" y1="315.30" x2="777.60" y2="216.00" stroke="#111" stroke-width="1.7" />
<line x1="777.60" y1="166.00" x2="777.60" y2="197.00" stroke="#fff" stroke-width="1.6" />
<line x1="777.50" y1="166.00" x2="777.50" y2="197.00" stroke="#888" stroke-width="0.9" />
<ellipse cx="620.1" cy="251.8" rx="4.90" ry="2.80" transform="rotate(-60 620.1 251.8)" fill="none" stroke="#222" stroke-width="1.1"/>
<ellipse cx="620.7" cy="252.3" rx="3.90" ry="1.70" transform="rotate(-60 620.7 252.3)" fill="none" stroke="#444" stroke-width="0.7"/>
<ellipse cx="652.3" cy="236.2" rx="4.90" ry="2.80" transform="rotate(-60 652.3 236.2)" fill="none" stroke="#222" stroke-width="1.1"/>
<ellipse cx="652.9" cy="236.7" rx="3.90" ry="1.70" transform="rotate(-60 652.9 236.7)" fill="none" stroke="#444" stroke-width="0.7"/>
<ellipse cx="626.5" cy="269.8" rx="3.92" ry="2.24" transform="rotate(-60 626.5 269.8)" fill="none" stroke="#222" stroke-width="1.1"/>
<ellipse cx="627.1" cy="270.3" rx="3.12" ry="1.36" transform="rotate(-60 627.1 270.3)" fill="none" stroke="#444" stroke-width="0.7"/>
<ellipse cx="772.4" cy="185.9" rx="4.17" ry="2.38" transform="rotate(-60 772.4 185.9)" fill="none" stroke="#222" stroke-width="1.1"/>
<ellipse cx="773.0" cy="186.4" rx="3.31" ry="1.44" transform="rotate(-60 773.0 186.4)" fill="none" stroke="#444" stroke-width="0.7"/>
<path d="M619.60,294.60 L633.90,286.30 L633.90,283.60 L619.60,291.90 Z" fill="#fff" stroke="#111" stroke-width="1.1" />
<path d="M619.60,301.40 L633.90,293.10 L633.90,290.40 L619.60,298.70 Z" fill="#fff" stroke="#111" stroke-width="1.1" />
<path d="M494.30,181.20 L664.90,82.60 L777.60,147.20 L603.90,244.10 Z" fill="#fff" stroke="#222" stroke-width="1.5" />
<line x1="495.50" y1="183.60" x2="603.20" y2="246.20" stroke="#222" stroke-width="0.9" />
<line x1="605.50" y1="245.30" x2="630.00" y2="231.40" stroke="#222" stroke-width="0.9" />
<path d="M628.6,229.6 L630.6,227.8 L634.8,230.6 L632.6,231.6 Z" fill="#111" stroke="#111" stroke-width="0.8"/>
<ellipse cx="511.30" cy="180.36" rx="7.1" ry="4.15" fill="none" stroke="#151515" stroke-width="1.1"/>
<path d="M504.20,180.36 A7.1,4.15 0 0 1 518.40,180.36 A7.1,1.9500000000000002 0 0 0 504.20,180.36 Z" fill="#3a3a3a"/>
<path d="M515.20,178.29 A7.1,4.15 0 0 1 514.49,183.47 Q516.62,180.36 515.20,178.29 Z" fill="#555"/>
<line x1="504.91" y1="180.18" x2="516.61" y2="178.29" stroke="#222" stroke-width="0.9"/>
<line x1="513.40" y1="176.83" x2="513.99" y2="183.75" stroke="#222" stroke-width="1.5"/>
<ellipse cx="524.42" cy="187.95" rx="7.1" ry="4.15" fill="none" stroke="#151515" stroke-width="1.1"/>
<path d="M517.32,187.95 A7.1,4.15 0 0 1 531.52,187.95 A7.1,1.9500000000000002 0 0 0 517.32,187.95 Z" fill="#3a3a3a"/>
<path d="M520.51,185.88 A7.1,4.15 0 0 0 521.22,191.06 Q519.09,187.95 520.51,185.88 Z" fill="#555"/>
<line x1="522.32" y1="191.48" x2="519.42" y2="185.63" stroke="#222" stroke-width="1.5"/>
<line x1="520.16" y1="185.16" x2="530.66" y2="188.75" stroke="#222" stroke-width="1.2"/>
<ellipse cx="537.53" cy="195.54" rx="7.1" ry="4.15" fill="none" stroke="#151515" stroke-width="1.1"/>
<path d="M530.43,195.54 A7.1,4.15 0 0 1 544.63,195.54 A7.1,1.9500000000000002 0 0 0 530.43,195.54 Z" fill="#3a3a3a"/>
<path d="M533.63,193.47 A7.1,4.15 0 0 0 534.34,198.66 Q532.21,195.54 533.63,193.47 Z" fill="#555"/>
<line x1="540.66" y1="192.29" x2="541.91" y2="198.26" stroke="#222" stroke-width="0.9"/>
<ellipse cx="550.65" cy="203.14" rx="7.1" ry="4.15" fill="none" stroke="#151515" stroke-width="1.1"/>
<path d="M543.55,203.14 A7.1,4.15 0 0 1 557.75,203.14 A7.1,1.9500000000000002 0 0 0 543.55,203.14 Z" fill="#3a3a3a"/>
<path d="M546.75,201.06 A7.1,4.15 0 0 0 547.46,206.25 Q545.33,203.14 546.75,201.06 Z" fill="#555"/>
<line x1="551.76" y1="199.46" x2="555.13" y2="205.80" stroke="#222" stroke-width="1.5"/>
<ellipse cx="563.77" cy="210.73" rx="7.1" ry="4.15" fill="none" stroke="#151515" stroke-width="1.1"/>
<path d="M556.67,210.73 A7.1,4.15 0 0 1 570.87,210.73 A7.1,1.9500000000000002 0 0 0 556.67,210.73 Z" fill="#3a3a3a"/>
<path d="M559.87,208.65 A7.1,4.15 0 0 0 560.58,213.84 Q558.45,210.73 559.87,208.65 Z" fill="#555"/>
<line x1="557.38" y1="210.74" x2="569.22" y2="208.78" stroke="#222" stroke-width="1.2"/>
<line x1="560.16" y1="207.64" x2="570.12" y2="211.16" stroke="#222" stroke-width="1.5"/>
<ellipse cx="576.89" cy="218.32" rx="7.1" ry="4.15" fill="none" stroke="#151515" stroke-width="1.1"/>
<path d="M569.79,218.32 A7.1,4.15 0 0 1 583.99,218.32 A7.1,1.9500000000000002 0 0 0 569.79,218.32 Z" fill="#3a3a3a"/>
<path d="M572.99,216.24 A7.1,4.15 0 0 0 573.70,221.43 Q571.57,218.32 572.99,216.24 Z" fill="#555"/>
<line x1="574.35" y1="221.75" x2="572.99" y2="215.36" stroke="#222" stroke-width="1.2"/>
<line x1="583.17" y1="219.01" x2="571.22" y2="220.04" stroke="#222" stroke-width="0.9"/>
<ellipse cx="590.01" cy="225.91" rx="7.1" ry="4.15" fill="none" stroke="#151515" stroke-width="1.1"/>
<path d="M582.91,225.91 A7.1,4.15 0 0 1 597.11,225.91 A7.1,2.45 0 0 0 582.91,225.91 Z" fill="#3a3a3a"/>
<ellipse cx="603.13" cy="233.50" rx="7.1" ry="4.15" fill="none" stroke="#151515" stroke-width="1.1"/>
<path d="M596.03,233.50 A7.1,4.15 0 0 1 610.23,233.50 A7.1,2.45 0 0 0 596.03,233.50 Z" fill="#3a3a3a"/>
<ellipse cx="528.83" cy="177.83" rx="7.1" ry="4.15" fill="none" stroke="#151515" stroke-width="1.1"/>
<path d="M521.73,177.83 A7.1,4.15 0 0 1 535.93,177.83 A7.1,1.9500000000000002 0 0 0 521.73,177.83 Z" fill="#3a3a3a"/>
<path d="M524.92,175.75 A7.1,4.15 0 0 0 525.63,180.94 Q523.50,177.83 524.92,175.75 Z" fill="#555"/>
<line x1="530.29" y1="181.47" x2="526.00" y2="174.48" stroke="#222" stroke-width="0.9"/>
<ellipse cx="541.95" cy="185.42" rx="7.1" ry="4.15" fill="none" stroke="#151515" stroke-width="1.1"/>
<path d="M534.85,185.42 A7.1,4.15 0 0 1 549.05,185.42 A7.1,1.9500000000000002 0 0 0 534.85,185.42 Z" fill="#3a3a3a"/>
<path d="M545.85,183.35 A7.1,4.15 0 0 1 545.14,188.53 Q547.27,185.42 545.85,183.35 Z" fill="#555"/>
<line x1="547.68" y1="187.07" x2="535.61" y2="185.90" stroke="#222" stroke-width="1.5"/>
<line x1="541.16" y1="189.13" x2="536.21" y2="183.77" stroke="#222" stroke-width="1.2"/>
<ellipse cx="555.07" cy="193.01" rx="7.1" ry="4.15" fill="none" stroke="#151515" stroke-width="1.1"/>
<path d="M547.97,193.01 A7.1,4.15 0 0 1 562.17,193.01 A7.1,1.9500000000000002 0 0 0 547.97,193.01 Z" fill="#3a3a3a"/>
<path d="M558.97,190.94 A7.1,4.15 0 0 1 558.26,196.12 Q560.39,193.01 558.97,190.94 Z" fill="#555"/>
<line x1="559.31" y1="195.81" x2="549.07" y2="191.72" stroke="#222" stroke-width="0.9"/>
<ellipse cx="568.19" cy="200.60" rx="7.1" ry="4.15" fill="none" stroke="#151515" stroke-width="1.1"/>
<path d="M561.09,200.60 A7.1,4.15 0 0 1 575.29,200.60 A7.1,1.9500000000000002 0 0 0 561.09,200.60 Z" fill="#3a3a3a"/>
<path d="M572.09,198.53 A7.1,4.15 0 0 1 571.38,203.72 Q573.51,200.60 572.09,198.53 Z" fill="#555"/>
<line x1="565.53" y1="197.21" x2="574.57" y2="200.70" stroke="#222" stroke-width="1.5"/>
<ellipse cx="581.31" cy="208.20" rx="7.1" ry="4.15" fill="none" stroke="#151515" stroke-width="1.1"/>
<path d="M574.21,208.20 A7.1,4.15 0 0 1 588.41,208.20 A7.1,2.45 0 0 0 574.21,208.20 Z" fill="#3a3a3a"/>
<ellipse cx="594.42" cy="215.79" rx="7.1" ry="4.15" fill="none" stroke="#151515" stroke-width="1.1"/>
<path d="M587.32,215.79 A7.1,4.15 0 0 1 601.52,215.79 A7.1,2.45 0 0 0 587.32,215.79 Z" fill="#3a3a3a"/>
<ellipse cx="607.54" cy="223.38" rx="7.1" ry="4.15" fill="none" stroke="#151515" stroke-width="1.1"/>
<path d="M600.44,223.38 A7.1,4.15 0 0 1 614.64,223.38 A7.1,2.45 0 0 0 600.44,223.38 Z" fill="#3a3a3a"/>
<ellipse cx="533.24" cy="167.71" rx="7.1" ry="4.15" fill="none" stroke="#151515" stroke-width="1.1"/>
<path d="M526.14,167.71 A7.1,4.15 0 0 1 540.34,167.71 A7.1,1.9500000000000002 0 0 0 526.14,167.71 Z" fill="#3a3a3a"/>
<path d="M529.34,165.63 A7.1,4.15 0 0 0 530.05,170.82 Q527.92,167.71 529.34,165.63 Z" fill="#555"/>
<line x1="527.63" y1="169.49" x2="533.15" y2="163.97" stroke="#222" stroke-width="1.2"/>
<line x1="537.44" y1="164.89" x2="529.94" y2="170.90" stroke="#222" stroke-width="1.5"/>
<ellipse cx="546.36" cy="175.30" rx="7.1" ry="4.15" fill="none" stroke="#151515" stroke-width="1.1"/>
<path d="M539.26,175.30 A7.1,4.15 0 0 1 553.46,175.30 A7.1,1.9500000000000002 0 0 0 539.26,175.30 Z" fill="#3a3a3a"/>
<path d="M542.46,173.22 A7.1,4.15 0 0 0 543.17,178.41 Q541.04,175.30 542.46,173.22 Z" fill="#555"/>
<line x1="548.82" y1="178.75" x2="543.07" y2="172.10" stroke="#222" stroke-width="1.5"/>
<ellipse cx="559.48" cy="182.89" rx="7.1" ry="4.15" fill="none" stroke="#151515" stroke-width="1.1"/>
<path d="M552.38,182.89 A7.1,4.15 0 0 1 566.58,182.89 A7.1,1.9500000000000002 0 0 0 552.38,182.89 Z" fill="#3a3a3a"/>
<path d="M555.58,180.81 A7.1,4.15 0 0 0 556.29,186.00 Q554.16,182.89 555.58,180.81 Z" fill="#555"/>
<line x1="565.86" y1="182.63" x2="556.91" y2="186.31" stroke="#222" stroke-width="1.2"/>
<ellipse cx="572.60" cy="190.48" rx="7.1" ry="4.15" fill="none" stroke="#151515" stroke-width="1.1"/>
<path d="M565.50,190.48 A7.1,4.15 0 0 1 579.70,190.48 A7.1,1.9500000000000002 0 0 0 565.50,190.48 Z" fill="#3a3a3a"/>
<path d="M576.51,188.41 A7.1,4.15 0 0 1 575.80,193.59 Q577.93,190.48 576.51,188.41 Z" fill="#555"/>
<line x1="567.78" y1="192.93" x2="570.12" y2="187.04" stroke="#222" stroke-width="0.9"/>
<line x1="567.05" y1="188.63" x2="578.11" y2="188.59" stroke="#222" stroke-width="1.5"/>
<ellipse cx="585.72" cy="198.07" rx="7.1" ry="4.15" fill="none" stroke="#151515" stroke-width="1.1"/>
<path d="M578.62,198.07 A7.1,4.15 0 0 1 592.82,198.07 A7.1,1.9500000000000002 0 0 0 578.62,198.07 Z" fill="#3a3a3a"/>
<path d="M589.62,196.00 A7.1,4.15 0 0 1 588.91,201.19 Q591.04,198.07 589.62,196.00 Z" fill="#555"/>
<line x1="591.89" y1="197.11" x2="582.38" y2="201.26" stroke="#222" stroke-width="1.5"/>
<ellipse cx="598.84" cy="205.66" rx="7.1" ry="4.15" fill="none" stroke="#151515" stroke-width="1.1"/>
<path d="M591.74,205.66 A7.1,4.15 0 0 1 605.94,205.66 A7.1,2.45 0 0 0 591.74,205.66 Z" fill="#3a3a3a"/>
<ellipse cx="611.96" cy="213.26" rx="7.1" ry="4.15" fill="none" stroke="#151515" stroke-width="1.1"/>
<path d="M604.86,213.26 A7.1,4.15 0 0 1 619.06,213.26 A7.1,2.45 0 0 0 604.86,213.26 Z" fill="#3a3a3a"/>
<ellipse cx="625.08" cy="220.85" rx="7.1" ry="4.15" fill="none" stroke="#151515" stroke-width="1.1"/>
<path d="M617.98,220.85 A7.1,4.15 0 0 1 632.18,220.85 A7.1,2.45 0 0 0 617.98,220.85 Z" fill="#3a3a3a"/>
<ellipse cx="550.78" cy="165.17" rx="7.1" ry="4.15" fill="none" stroke="#151515" stroke-width="1.1"/>
<path d="M543.68,165.17 A7.1,4.15 0 0 1 557.88,165.17 A7.1,1.9500000000000002 0 0 0 543.68,165.17 Z" fill="#3a3a3a"/>
<path d="M546.87,163.10 A7.1,4.15 0 0 0 547.58,168.29 Q545.45,165.17 546.87,163.10 Z" fill="#555"/>
<line x1="549.78" y1="161.49" x2="556.95" y2="166.14" stroke="#222" stroke-width="1.5"/>
<ellipse cx="563.89" cy="172.77" rx="7.1" ry="4.15" fill="none" stroke="#151515" stroke-width="1.1"/>
<path d="M556.79,172.77 A7.1,4.15 0 0 1 570.99,172.77 A7.1,1.9500000000000002 0 0 0 556.79,172.77 Z" fill="#3a3a3a"/>
<path d="M559.99,170.69 A7.1,4.15 0 0 0 560.70,175.88 Q558.57,172.77 559.99,170.69 Z" fill="#555"/>
<line x1="568.60" y1="170.24" x2="562.56" y2="176.42" stroke="#222" stroke-width="1.2"/>
<line x1="570.00" y1="173.86" x2="559.99" y2="175.72" stroke="#222" stroke-width="1.5"/>
<ellipse cx="577.01" cy="180.36" rx="7.1" ry="4.15" fill="none" stroke="#151515" stroke-width="1.1"/>
<path d="M569.91,180.36 A7.1,4.15 0 0 1 584.11,180.36 A7.1,1.9500000000000002 0 0 0 569.91,180.36 Z" fill="#3a3a3a"/>
<path d="M573.11,178.28 A7.1,4.15 0 0 0 573.82,183.47 Q571.69,180.36 573.11,178.28 Z" fill="#555"/>
<line x1="576.74" y1="184.09" x2="575.06" y2="176.80" stroke="#222" stroke-width="1.5"/>
<line x1="570.63" y1="180.58" x2="581.58" y2="177.74" stroke="#222" stroke-width="1.5"/>
<ellipse cx="590.13" cy="187.95" rx="7.1" ry="4.15" fill="none" stroke="#151515" stroke-width="1.1"/>
<path d="M583.03,187.95 A7.1,4.15 0 0 1 597.23,187.95 A7.1,1.9500000000000002 0 0 0 583.03,187.95 Z" fill="#3a3a3a"/>
<path d="M586.23,185.87 A7.1,4.15 0 0 0 586.94,191.06 Q584.81,187.95 586.23,185.87 Z" fill="#555"/>
<line x1="583.80" y1="188.44" x2="595.07" y2="185.58" stroke="#222" stroke-width="1.5"/>
<ellipse cx="603.25" cy="195.54" rx="7.1" ry="4.15" fill="none" stroke="#151515" stroke-width="1.1"/>
<path d="M596.15,195.54 A7.1,4.15 0 0 1 610.35,195.54 A7.1,1.9500000000000002 0 0 0 596.15,195.54 Z" fill="#3a3a3a"/>
<path d="M607.16,193.47 A7.1,4.15 0 0 1 606.45,198.65 Q608.58,195.54 607.16,193.47 Z" fill="#555"/>
<line x1="608.79" y1="193.68" x2="603.56" y2="199.27" stroke="#222" stroke-width="0.9"/>
<ellipse cx="616.37" cy="203.13" rx="7.1" ry="4.15" fill="none" stroke="#151515" stroke-width="1.1"/>
<path d="M609.27,203.13 A7.1,4.15 0 0 1 623.47,203.13 A7.1,2.45 0 0 0 609.27,203.13 Z" fill="#3a3a3a"/>
<ellipse cx="629.49" cy="210.72" rx="7.1" ry="4.15" fill="none" stroke="#151515" stroke-width="1.1"/>
<path d="M622.39,210.72 A7.1,4.15 0 0 1 636.59,210.72 A7.1,2.45 0 0 0 622.39,210.72 Z" fill="#3a3a3a"/>
<ellipse cx="555.19" cy="155.05" rx="7.1" ry="4.15" fill="none" stroke="#151515" stroke-width="1.1"/>
<path d="M548.09,155.05 A7.1,4.15 0 0 1 562.29,155.05 A7.1,1.9500000000000002 0 0 0 548.09,155.05 Z" fill="#3a3a3a"/>
<path d="M551.28,152.98 A7.1,4.15 0 0 0 551.99,158.16 Q549.86,155.05 551.28,152.98 Z" fill="#555"/>
<line x1="553.92" y1="158.71" x2="552.10" y2="151.78" stroke="#222" stroke-width="0.9"/>
<ellipse cx="568.31" cy="162.64" rx="7.1" ry="4.15" fill="none" stroke="#151515" stroke-width="1.1"/>
<path d="M561.21,162.64 A7.1,4.15 0 0 1 575.41,162.64 A7.1,1.9500000000000002 0 0 0 561.21,162.64 Z" fill="#3a3a3a"/>
<path d="M564.40,160.57 A7.1,4.15 0 0 0 565.11,165.76 Q562.98,162.64 564.40,160.57 Z" fill="#555"/>
<line x1="574.65" y1="162.18" x2="563.34" y2="164.99" stroke="#222" stroke-width="1.5"/>
<line x1="561.98" y1="162.14" x2="574.68" y2="162.39" stroke="#222" stroke-width="1.5"/>
<ellipse cx="581.43" cy="170.24" rx="7.1" ry="4.15" fill="none" stroke="#151515" stroke-width="1.1"/>
<path d="M574.33,170.24 A7.1,4.15 0 0 1 588.53,170.24 A7.1,1.9500000000000002 0 0 0 574.33,170.24 Z" fill="#3a3a3a"/>
<path d="M577.52,168.16 A7.1,4.15 0 0 0 578.23,173.35 Q576.10,170.24 577.52,168.16 Z" fill="#555"/>
<line x1="586.82" y1="168.23" x2="578.35" y2="173.51" stroke="#222" stroke-width="0.9"/>
<line x1="587.76" y1="170.73" x2="575.66" y2="171.84" stroke="#222" stroke-width="1.2"/>
<ellipse cx="594.55" cy="177.83" rx="7.1" ry="4.15" fill="none" stroke="#151515" stroke-width="1.1"/>
<path d="M587.45,177.83 A7.1,4.15 0 0 1 601.65,177.83 A7.1,1.9500000000000002 0 0 0 587.45,177.83 Z" fill="#3a3a3a"/>
<path d="M598.45,175.75 A7.1,4.15 0 0 1 597.74,180.94 Q599.87,177.83 598.45,175.75 Z" fill="#555"/>
<line x1="598.73" y1="180.65" x2="588.65" y2="179.27" stroke="#222" stroke-width="1.2"/>
<line x1="588.42" y1="176.77" x2="600.85" y2="177.20" stroke="#222" stroke-width="1.5"/>
<ellipse cx="607.67" cy="185.42" rx="7.1" ry="4.15" fill="none" stroke="#151515" stroke-width="1.1"/>
<path d="M600.57,185.42 A7.1,4.15 0 0 1 614.77,185.42 A7.1,1.9500000000000002 0 0 0 600.57,185.42 Z" fill="#3a3a3a"/>
<path d="M603.76,183.34 A7.1,4.15 0 0 0 604.47,188.53 Q602.34,185.42 603.76,183.34 Z" fill="#555"/>
<line x1="603.86" y1="188.42" x2="608.43" y2="181.71" stroke="#222" stroke-width="0.9"/>
<line x1="612.06" y1="182.71" x2="608.19" y2="189.14" stroke="#222" stroke-width="0.9"/>
<ellipse cx="620.78" cy="193.01" rx="7.1" ry="4.15" fill="none" stroke="#151515" stroke-width="1.1"/>
<path d="M613.68,193.01 A7.1,4.15 0 0 1 627.88,193.01 A7.1,2.45 0 0 0 613.68,193.01 Z" fill="#3a3a3a"/>
<ellipse cx="633.90" cy="200.60" rx="7.1" ry="4.15" fill="none" stroke="#151515" stroke-width="1.1"/>
<path d="M626.80,200.60 A7.1,4.15 0 0 1 641.00,200.60 A7.1,2.45 0 0 0 626.80,200.60 Z" fill="#3a3a3a"/>
<ellipse cx="647.02" cy="208.19" rx="7.1" ry="4.15" fill="none" stroke="#151515" stroke-width="1.1"/>
<path d="M639.92,208.19 A7.1,4.15 0 0 1 654.12,208.19 A7.1,2.45 0 0 0 639.92,208.19 Z" fill="#3a3a3a"/>
<ellipse cx="572.72" cy="152.52" rx="7.1" ry="4.15" fill="none" stroke="#151515" stroke-width="1.1"/>
<path d="M565.62,152.52 A7.1,4.15 0 0 1 579.82,152.52 A7.1,1.9500000000000002 0 0 0 565.62,152.52 Z" fill="#3a3a3a"/>
<path d="M568.82,150.45 A7.1,4.15 0 0 0 569.53,155.63 Q567.40,152.52 568.82,150.45 Z" fill="#555"/>
<line x1="578.32" y1="154.32" x2="566.35" y2="152.78" stroke="#222" stroke-width="1.2"/>
<ellipse cx="585.84" cy="160.11" rx="7.1" ry="4.15" fill="none" stroke="#151515" stroke-width="1.1"/>
<path d="M578.74,160.11 A7.1,4.15 0 0 1 592.94,160.11 A7.1,1.9500000000000002 0 0 0 578.74,160.11 Z" fill="#3a3a3a"/>
<path d="M589.75,158.04 A7.1,4.15 0 0 1 589.04,163.22 Q591.17,160.11 589.75,158.04 Z" fill="#555"/>
<line x1="591.69" y1="158.60" x2="581.99" y2="163.09" stroke="#222" stroke-width="1.2"/>
<line x1="579.90" y1="161.48" x2="590.68" y2="157.68" stroke="#222" stroke-width="0.9"/>
<ellipse cx="598.96" cy="167.70" rx="7.1" ry="4.15" fill="none" stroke="#151515" stroke-width="1.1"/>
<path d="M591.86,167.70 A7.1,4.15 0 0 1 606.06,167.70 A7.1,1.9500000000000002 0 0 0 591.86,167.70 Z" fill="#3a3a3a"/>
<path d="M595.06,165.63 A7.1,4.15 0 0 0 595.77,170.82 Q593.64,167.70 595.06,165.63 Z" fill="#555"/>
<line x1="593.81" y1="165.49" x2="605.30" y2="167.22" stroke="#222" stroke-width="0.9"/>
<line x1="605.12" y1="166.71" x2="598.36" y2="171.42" stroke="#222" stroke-width="1.5"/>
<ellipse cx="612.08" cy="175.30" rx="7.1" ry="4.15" fill="none" stroke="#151515" stroke-width="1.1"/>
<path d="M604.98,175.30 A7.1,4.15 0 0 1 619.18,175.30 A7.1,1.9500000000000002 0 0 0 604.98,175.30 Z" fill="#3a3a3a"/>
<path d="M615.98,173.22 A7.1,4.15 0 0 1 615.27,178.41 Q617.40,175.30 615.98,173.22 Z" fill="#555"/>
<line x1="617.15" y1="173.02" x2="611.97" y2="179.03" stroke="#222" stroke-width="0.9"/>
<line x1="609.28" y1="171.94" x2="618.47" y2="175.37" stroke="#222" stroke-width="0.9"/>
<ellipse cx="625.20" cy="182.89" rx="7.1" ry="4.15" fill="none" stroke="#151515" stroke-width="1.1"/>
<path d="M618.10,182.89 A7.1,4.15 0 0 1 632.30,182.89 A7.1,1.9500000000000002 0 0 0 618.10,182.89 Z" fill="#3a3a3a"/>
<path d="M629.10,180.81 A7.1,4.15 0 0 1 628.39,186.00 Q630.52,182.89 629.10,180.81 Z" fill="#555"/>
<line x1="618.81" y1="182.93" x2="628.30" y2="179.62" stroke="#222" stroke-width="1.2"/>
<line x1="621.97" y1="179.67" x2="631.58" y2="182.65" stroke="#222" stroke-width="1.2"/>
<ellipse cx="638.32" cy="190.48" rx="7.1" ry="4.15" fill="none" stroke="#151515" stroke-width="1.1"/>
<path d="M631.22,190.48 A7.1,4.15 0 0 1 645.42,190.48 A7.1,2.45 0 0 0 631.22,190.48 Z" fill="#3a3a3a"/>
<ellipse cx="651.44" cy="198.07" rx="7.1" ry="4.15" fill="none" stroke="#151515" stroke-width="1.1"/>
<path d="M644.34,198.07 A7.1,4.15 0 0 1 658.54,198.07 A7.1,2.45 0 0 0 644.34,198.07 Z" fill="#3a3a3a"/>
<ellipse cx="577.14" cy="142.40" rx="7.1" ry="4.15" fill="none" stroke="#151515" stroke-width="1.1"/>
<path d="M570.04,142.40 A7.1,4.15 0 0 1 584.24,142.40 A7.1,1.9500000000000002 0 0 0 570.04,142.40 Z" fill="#3a3a3a"/>
<path d="M573.23,140.32 A7.1,4.15 0 0 0 573.94,145.51 Q571.81,142.40 573.23,140.32 Z" fill="#555"/>
<line x1="578.35" y1="146.06" x2="574.48" y2="139.00" stroke="#222" stroke-width="0.9"/>
<line x1="581.33" y1="145.22" x2="570.78" y2="141.99" stroke="#222" stroke-width="0.9"/>
<ellipse cx="590.25" cy="149.99" rx="7.1" ry="4.15" fill="none" stroke="#151515" stroke-width="1.1"/>
<path d="M583.15,149.99 A7.1,4.15 0 0 1 597.35,149.99 A7.1,1.9500000000000002 0 0 0 583.15,149.99 Z" fill="#3a3a3a"/>
<path d="M594.16,147.91 A7.1,4.15 0 0 1 593.45,153.10 Q595.58,149.99 594.16,147.91 Z" fill="#555"/>
<line x1="595.11" y1="152.42" x2="583.88" y2="150.24" stroke="#222" stroke-width="0.9"/>
<ellipse cx="603.37" cy="157.58" rx="7.1" ry="4.15" fill="none" stroke="#151515" stroke-width="1.1"/>
<path d="M596.27,157.58 A7.1,4.15 0 0 1 610.47,157.58 A7.1,1.9500000000000002 0 0 0 596.27,157.58 Z" fill="#3a3a3a"/>
<path d="M607.28,155.51 A7.1,4.15 0 0 1 606.57,160.69 Q608.70,157.58 607.28,155.51 Z" fill="#555"/>
<line x1="600.36" y1="154.29" x2="608.66" y2="159.68" stroke="#222" stroke-width="1.5"/>
<line x1="597.27" y1="158.68" x2="603.49" y2="153.85" stroke="#222" stroke-width="0.9"/>
<ellipse cx="616.49" cy="165.17" rx="7.1" ry="4.15" fill="none" stroke="#151515" stroke-width="1.1"/>
<path d="M609.39,165.17 A7.1,4.15 0 0 1 623.59,165.17 A7.1,1.9500000000000002 0 0 0 609.39,165.17 Z" fill="#3a3a3a"/>
<path d="M612.59,163.10 A7.1,4.15 0 0 0 613.30,168.29 Q611.17,165.17 612.59,163.10 Z" fill="#555"/>
<line x1="610.72" y1="163.58" x2="622.01" y2="163.29" stroke="#222" stroke-width="1.5"/>
<line x1="622.84" y1="165.62" x2="613.36" y2="168.43" stroke="#222" stroke-width="1.2"/>
<ellipse cx="629.61" cy="172.76" rx="7.1" ry="4.15" fill="none" stroke="#151515" stroke-width="1.1"/>
<path d="M622.51,172.76 A7.1,4.15 0 0 1 636.71,172.76 A7.1,2.45 0 0 0 622.51,172.76 Z" fill="#3a3a3a"/>
<ellipse cx="642.73" cy="180.36" rx="7.1" ry="4.15" fill="none" stroke="#151515" stroke-width="1.1"/>
<path d="M635.63,180.36 A7.1,4.15 0 0 1 649.83,180.36 A7.1,2.45 0 0 0 635.63,180.36 Z" fill="#3a3a3a"/>
<ellipse cx="655.85" cy="187.95" rx="7.1" ry="4.15" fill="none" stroke="#151515" stroke-width="1.1"/>
<path d="M648.75,187.95 A7.1,4.15 0 0 1 662.95,187.95 A7.1,2.45 0 0 0 648.75,187.95 Z" fill="#3a3a3a"/>
<ellipse cx="668.97" cy="195.54" rx="7.1" ry="4.15" fill="none" stroke="#151515" stroke-width="1.1"/>
<path d="M661.87,195.54 A7.1,4.15 0 0 1 676.07,195.54 A7.1,2.45 0 0 0 661.87,195.54 Z" fill="#3a3a3a"/>
<ellipse cx="594.67" cy="139.87" rx="7.1" ry="4.15" fill="none" stroke="#151515" stroke-width="1.1"/>
<path d="M587.57,139.87 A7.1,4.15 0 0 1 601.77,139.87 A7.1,1.9500000000000002 0 0 0 587.57,139.87 Z" fill="#3a3a3a"/>
<path d="M590.76,137.79 A7.1,4.15 0 0 0 591.47,142.98 Q589.34,139.87 590.76,137.79 Z" fill="#555"/>
<line x1="599.62" y1="142.23" x2="588.28" y2="139.92" stroke="#222" stroke-width="1.5"/>
<line x1="596.91" y1="136.37" x2="593.61" y2="143.55" stroke="#222" stroke-width="1.5"/>
<ellipse cx="607.79" cy="147.46" rx="7.1" ry="4.15" fill="none" stroke="#151515" stroke-width="1.1"/>
<path d="M600.69,147.46 A7.1,4.15 0 0 1 614.89,147.46 A7.1,1.9500000000000002 0 0 0 600.69,147.46 Z" fill="#3a3a3a"/>
<path d="M611.69,145.38 A7.1,4.15 0 0 1 610.98,150.57 Q613.11,147.46 611.69,145.38 Z" fill="#555"/>
<line x1="610.56" y1="150.82" x2="601.53" y2="148.22" stroke="#222" stroke-width="1.2"/>
<line x1="601.55" y1="146.65" x2="610.79" y2="144.16" stroke="#222" stroke-width="0.9"/>
<ellipse cx="620.91" cy="155.05" rx="7.1" ry="4.15" fill="none" stroke="#151515" stroke-width="1.1"/>
<path d="M613.81,155.05 A7.1,4.15 0 0 1 628.01,155.05 A7.1,1.9500000000000002 0 0 0 613.81,155.05 Z" fill="#3a3a3a"/>
<path d="M624.81,152.97 A7.1,4.15 0 0 1 624.10,158.16 Q626.23,155.05 624.81,152.97 Z" fill="#555"/>
<line x1="615.90" y1="157.37" x2="624.02" y2="151.79" stroke="#222" stroke-width="0.9"/>
<ellipse cx="634.03" cy="162.64" rx="7.1" ry="4.15" fill="none" stroke="#151515" stroke-width="1.1"/>
<path d="M626.93,162.64 A7.1,4.15 0 0 1 641.13,162.64 A7.1,1.9500000000000002 0 0 0 626.93,162.64 Z" fill="#3a3a3a"/>
<path d="M637.93,160.57 A7.1,4.15 0 0 1 637.22,165.75 Q639.35,162.64 637.93,160.57 Z" fill="#555"/>
<line x1="627.95" y1="163.79" x2="635.00" y2="158.95" stroke="#222" stroke-width="0.9"/>
<ellipse cx="647.14" cy="170.23" rx="7.1" ry="4.15" fill="none" stroke="#151515" stroke-width="1.1"/>
<path d="M640.04,170.23 A7.1,4.15 0 0 1 654.24,170.23 A7.1,1.9500000000000002 0 0 0 640.04,170.23 Z" fill="#3a3a3a"/>
<path d="M651.05,168.16 A7.1,4.15 0 0 1 650.34,173.35 Q652.47,170.23 651.05,168.16 Z" fill="#555"/>
<line x1="644.20" y1="173.55" x2="649.13" y2="166.68" stroke="#222" stroke-width="0.9"/>
<line x1="646.01" y1="166.56" x2="650.42" y2="173.44" stroke="#222" stroke-width="1.5"/>
<ellipse cx="660.26" cy="177.82" rx="7.1" ry="4.15" fill="none" stroke="#151515" stroke-width="1.1"/>
<path d="M653.16,177.82 A7.1,4.15 0 0 1 667.36,177.82 A7.1,2.45 0 0 0 653.16,177.82 Z" fill="#3a3a3a"/>
<ellipse cx="673.38" cy="185.42" rx="7.1" ry="4.15" fill="none" stroke="#151515" stroke-width="1.1"/>
<path d="M666.28,185.42 A7.1,4.15 0 0 1 680.48,185.42 A7.1,2.45 0 0 0 666.28,185.42 Z" fill="#3a3a3a"/>
<ellipse cx="599.08" cy="129.74" rx="7.1" ry="4.15" fill="none" stroke="#151515" stroke-width="1.1"/>
<path d="M591.98,129.74 A7.1,4.15 0 0 1 606.18,129.74 A7.1,1.9500000000000002 0 0 0 591.98,129.74 Z" fill="#3a3a3a"/>
<path d="M602.99,127.67 A7.1,4.15 0 0 1 602.28,132.86 Q604.41,129.74 602.99,127.67 Z" fill="#555"/>
<line x1="605.40" y1="129.20" x2="594.83" y2="132.53" stroke="#222" stroke-width="1.2"/>
<ellipse cx="612.20" cy="137.34" rx="7.1" ry="4.15" fill="none" stroke="#151515" stroke-width="1.1"/>
<path d="M605.10,137.34 A7.1,4.15 0 0 1 619.30,137.34 A7.1,1.9500000000000002 0 0 0 605.10,137.34 Z" fill="#3a3a3a"/>
<path d="M608.30,135.26 A7.1,4.15 0 0 0 609.01,140.45 Q606.88,137.34 608.30,135.26 Z" fill="#555"/>
<line x1="605.81" y1="137.23" x2="614.10" y2="133.77" stroke="#222" stroke-width="1.2"/>
<line x1="606.12" y1="136.18" x2="618.56" y2="136.94" stroke="#222" stroke-width="1.2"/>
<ellipse cx="625.32" cy="144.93" rx="7.1" ry="4.15" fill="none" stroke="#151515" stroke-width="1.1"/>
<path d="M618.22,144.93 A7.1,4.15 0 0 1 632.42,144.93 A7.1,1.9500000000000002 0 0 0 618.22,144.93 Z" fill="#3a3a3a"/>
<path d="M621.42,142.85 A7.1,4.15 0 0 0 622.13,148.04 Q620.00,144.93 621.42,142.85 Z" fill="#555"/>
<line x1="619.56" y1="146.54" x2="624.20" y2="141.25" stroke="#222" stroke-width="1.5"/>
<ellipse cx="638.44" cy="152.52" rx="7.1" ry="4.15" fill="none" stroke="#151515" stroke-width="1.1"/>
<path d="M631.34,152.52 A7.1,4.15 0 0 1 645.54,152.52 A7.1,1.9500000000000002 0 0 0 631.34,152.52 Z" fill="#3a3a3a"/>
<path d="M634.53,150.44 A7.1,4.15 0 0 0 635.24,155.63 Q633.11,152.52 634.53,150.44 Z" fill="#555"/>
<line x1="642.24" y1="155.52" x2="632.19" y2="151.73" stroke="#222" stroke-width="1.5"/>
<line x1="632.09" y1="152.10" x2="644.29" y2="151.01" stroke="#222" stroke-width="1.2"/>
<ellipse cx="651.56" cy="160.11" rx="7.1" ry="4.15" fill="none" stroke="#151515" stroke-width="1.1"/>
<path d="M644.46,160.11 A7.1,4.15 0 0 1 658.66,160.11 A7.1,1.9500000000000002 0 0 0 644.46,160.11 Z" fill="#3a3a3a"/>
<path d="M655.46,158.04 A7.1,4.15 0 0 1 654.75,163.22 Q656.88,160.11 655.46,158.04 Z" fill="#555"/>
<line x1="651.86" y1="156.38" x2="656.00" y2="162.80" stroke="#222" stroke-width="1.5"/>
<ellipse cx="664.68" cy="167.70" rx="7.1" ry="4.15" fill="none" stroke="#151515" stroke-width="1.1"/>
<path d="M657.58,167.70 A7.1,4.15 0 0 1 671.78,167.70 A7.1,2.45 0 0 0 657.58,167.70 Z" fill="#3a3a3a"/>
<ellipse cx="677.80" cy="175.29" rx="7.1" ry="4.15" fill="none" stroke="#151515" stroke-width="1.1"/>
<path d="M670.70,175.29 A7.1,4.15 0 0 1 684.90,175.29 A7.1,2.45 0 0 0 670.70,175.29 Z" fill="#3a3a3a"/>
<ellipse cx="690.92" cy="182.88" rx="7.1" ry="4.15" fill="none" stroke="#151515" stroke-width="1.1"/>
<path d="M683.82,182.88 A7.1,4.15 0 0 1 698.02,182.88 A7.1,2.45 0 0 0 683.82,182.88 Z" fill="#3a3a3a"/>
<ellipse cx="616.61" cy="127.21" rx="7.1" ry="4.15" fill="none" stroke="#151515" stroke-width="1.1"/>
<path d="M609.51,127.21 A7.1,4.15 0 0 1 623.71,127.21 A7.1,1.9500000000000002 0 0 0 609.51,127.21 Z" fill="#3a3a3a"/>
<path d="M620.52,125.14 A7.1,4.15 0 0 1 619.81,130.32 Q621.94,127.21 620.52,125.14 Z" fill="#555"/>
<line x1="613.57" y1="123.93" x2="620.69" y2="130.09" stroke="#222" stroke-width="1.5"/>
<line x1="618.28" y1="130.82" x2="613.09" y2="124.10" stroke="#222" stroke-width="1.5"/>
<ellipse cx="629.73" cy="134.80" rx="7.1" ry="4.15" fill="none" stroke="#151515" stroke-width="1.1"/>
<path d="M622.63,134.80 A7.1,4.15 0 0 1 636.83,134.80 A7.1,1.9500000000000002 0 0 0 622.63,134.80 Z" fill="#3a3a3a"/>
<path d="M633.64,132.73 A7.1,4.15 0 0 1 632.93,137.92 Q635.06,134.80 633.64,132.73 Z" fill="#555"/>
<line x1="624.32" y1="136.79" x2="628.50" y2="131.14" stroke="#222" stroke-width="0.9"/>
<ellipse cx="642.85" cy="142.40" rx="7.1" ry="4.15" fill="none" stroke="#151515" stroke-width="1.1"/>
<path d="M635.75,142.40 A7.1,4.15 0 0 1 649.95,142.40 A7.1,1.9500000000000002 0 0 0 635.75,142.40 Z" fill="#3a3a3a"/>
<path d="M638.95,140.32 A7.1,4.15 0 0 0 639.66,145.51 Q637.53,142.40 638.95,140.32 Z" fill="#555"/>
<line x1="636.49" y1="142.03" x2="647.48" y2="139.82" stroke="#222" stroke-width="1.5"/>
<ellipse cx="655.97" cy="149.99" rx="7.1" ry="4.15" fill="none" stroke="#151515" stroke-width="1.1"/>
<path d="M648.87,149.99 A7.1,4.15 0 0 1 663.07,149.99 A7.1,1.9500000000000002 0 0 0 648.87,149.99 Z" fill="#3a3a3a"/>
<path d="M652.07,147.91 A7.1,4.15 0 0 0 652.78,153.10 Q650.65,149.99 652.07,147.91 Z" fill="#555"/>
<line x1="661.82" y1="151.49" x2="649.83" y2="151.02" stroke="#222" stroke-width="1.2"/>
<ellipse cx="669.09" cy="157.58" rx="7.1" ry="4.15" fill="none" stroke="#151515" stroke-width="1.1"/>
<path d="M661.99,157.58 A7.1,4.15 0 0 1 676.19,157.58 A7.1,1.9500000000000002 0 0 0 661.99,157.58 Z" fill="#3a3a3a"/>
<path d="M673.00,155.50 A7.1,4.15 0 0 1 672.29,160.69 Q674.42,157.58 673.00,155.50 Z" fill="#555"/>
<line x1="669.25" y1="161.31" x2="664.62" y2="154.91" stroke="#222" stroke-width="1.2"/>
<line x1="663.25" y1="159.10" x2="673.63" y2="154.95" stroke="#222" stroke-width="1.2"/>
<ellipse cx="682.21" cy="165.17" rx="7.1" ry="4.15" fill="none" stroke="#151515" stroke-width="1.1"/>
<path d="M675.11,165.17 A7.1,4.15 0 0 1 689.31,165.17 A7.1,1.9500000000000002 0 0 0 675.11,165.17 Z" fill="#3a3a3a"/>
<path d="M678.31,163.10 A7.1,4.15 0 0 0 679.02,168.28 Q676.89,165.17 678.31,163.10 Z" fill="#555"/>
<line x1="676.62" y1="166.98" x2="680.68" y2="161.54" stroke="#222" stroke-width="1.2"/>
<ellipse cx="695.33" cy="172.76" rx="7.1" ry="4.15" fill="none" stroke="#151515" stroke-width="1.1"/>
<path d="M688.23,172.76 A7.1,4.15 0 0 1 702.43,172.76 A7.1,2.45 0 0 0 688.23,172.76 Z" fill="#3a3a3a"/>
<ellipse cx="621.03" cy="117.09" rx="7.1" ry="4.15" fill="none" stroke="#151515" stroke-width="1.1"/>
<path d="M613.93,117.09 A7.1,4.15 0 0 1 628.13,117.09 A7.1,1.9500000000000002 0 0 0 613.93,117.09 Z" fill="#3a3a3a"/>
<path d="M617.12,115.01 A7.1,4.15 0 0 0 617.83,120.20 Q615.70,117.09 617.12,115.01 Z" fill="#555"/>
<line x1="623.23" y1="120.60" x2="614.71" y2="116.53" stroke="#222" stroke-width="1.5"/>
<ellipse cx="634.15" cy="124.68" rx="7.1" ry="4.15" fill="none" stroke="#151515" stroke-width="1.1"/>
<path d="M627.05,124.68 A7.1,4.15 0 0 1 641.25,124.68 A7.1,1.9500000000000002 0 0 0 627.05,124.68 Z" fill="#3a3a3a"/>
<path d="M638.05,122.61 A7.1,4.15 0 0 1 637.34,127.79 Q639.47,124.68 638.05,122.61 Z" fill="#555"/>
<line x1="629.47" y1="122.13" x2="639.86" y2="123.01" stroke="#222" stroke-width="1.5"/>
<ellipse cx="647.27" cy="132.27" rx="7.1" ry="4.15" fill="none" stroke="#151515" stroke-width="1.1"/>
<path d="M640.17,132.27 A7.1,4.15 0 0 1 654.37,132.27 A7.1,1.9500000000000002 0 0 0 640.17,132.27 Z" fill="#3a3a3a"/>
<path d="M651.17,130.20 A7.1,4.15 0 0 1 650.46,135.39 Q652.59,132.27 651.17,130.20 Z" fill="#555"/>
<line x1="645.33" y1="128.71" x2="650.85" y2="135.37" stroke="#222" stroke-width="0.9"/>
<ellipse cx="660.39" cy="139.86" rx="7.1" ry="4.15" fill="none" stroke="#151515" stroke-width="1.1"/>
<path d="M653.29,139.86 A7.1,4.15 0 0 1 667.49,139.86 A7.1,1.9500000000000002 0 0 0 653.29,139.86 Z" fill="#3a3a3a"/>
<path d="M664.29,137.79 A7.1,4.15 0 0 1 663.58,142.98 Q665.71,139.86 664.29,137.79 Z" fill="#555"/>
<line x1="654.18" y1="138.98" x2="666.76" y2="139.62" stroke="#222" stroke-width="1.5"/>
<ellipse cx="673.50" cy="147.46" rx="7.1" ry="4.15" fill="none" stroke="#151515" stroke-width="1.1"/>
<path d="M666.40,147.46 A7.1,4.15 0 0 1 680.60,147.46 A7.1,1.9500000000000002 0 0 0 666.40,147.46 Z" fill="#3a3a3a"/>
<path d="M669.60,145.38 A7.1,4.15 0 0 0 670.31,150.57 Q668.18,147.46 669.60,145.38 Z" fill="#555"/>
<line x1="674.20" y1="151.17" x2="670.10" y2="144.30" stroke="#222" stroke-width="1.2"/>
<ellipse cx="686.62" cy="155.05" rx="7.1" ry="4.15" fill="none" stroke="#151515" stroke-width="1.1"/>
<path d="M679.52,155.05 A7.1,4.15 0 0 1 693.72,155.05 A7.1,1.9500000000000002 0 0 0 679.52,155.05 Z" fill="#3a3a3a"/>
<path d="M690.53,152.97 A7.1,4.15 0 0 1 689.82,158.16 Q691.95,155.05 690.53,152.97 Z" fill="#555"/>
<line x1="691.55" y1="152.67" x2="688.06" y2="158.69" stroke="#222" stroke-width="0.9"/>
<line x1="691.47" y1="152.61" x2="688.63" y2="158.59" stroke="#222" stroke-width="0.9"/>
<ellipse cx="699.74" cy="162.64" rx="7.1" ry="4.15" fill="none" stroke="#151515" stroke-width="1.1"/>
<path d="M692.64,162.64 A7.1,4.15 0 0 1 706.84,162.64 A7.1,2.45 0 0 0 692.64,162.64 Z" fill="#3a3a3a"/>
<ellipse cx="712.86" cy="170.23" rx="7.1" ry="4.15" fill="none" stroke="#151515" stroke-width="1.1"/>
<path d="M705.76,170.23 A7.1,4.15 0 0 1 719.96,170.23 A7.1,2.45 0 0 0 705.76,170.23 Z" fill="#3a3a3a"/>
<ellipse cx="638.56" cy="114.56" rx="7.1" ry="4.15" fill="none" stroke="#151515" stroke-width="1.1"/>
<path d="M631.46,114.56 A7.1,4.15 0 0 1 645.66,114.56 A7.1,1.9500000000000002 0 0 0 631.46,114.56 Z" fill="#3a3a3a"/>
<path d="M642.47,112.48 A7.1,4.15 0 0 1 641.76,117.67 Q643.89,114.56 642.47,112.48 Z" fill="#555"/>
<line x1="632.40" y1="113.56" x2="644.79" y2="113.72" stroke="#222" stroke-width="0.9"/>
<line x1="633.33" y1="116.70" x2="641.28" y2="111.18" stroke="#222" stroke-width="0.9"/>
<ellipse cx="651.68" cy="122.15" rx="7.1" ry="4.15" fill="none" stroke="#151515" stroke-width="1.1"/>
<path d="M644.58,122.15 A7.1,4.15 0 0 1 658.78,122.15 A7.1,1.9500000000000002 0 0 0 644.58,122.15 Z" fill="#3a3a3a"/>
<path d="M655.59,120.07 A7.1,4.15 0 0 1 654.88,125.26 Q657.01,122.15 655.59,120.07 Z" fill="#555"/>
<line x1="656.46" y1="124.63" x2="645.29" y2="122.19" stroke="#222" stroke-width="1.2"/>
<line x1="645.29" y1="122.09" x2="657.28" y2="120.35" stroke="#222" stroke-width="0.9"/>
<ellipse cx="664.80" cy="129.74" rx="7.1" ry="4.15" fill="none" stroke="#151515" stroke-width="1.1"/>
<path d="M657.70,129.74 A7.1,4.15 0 0 1 671.90,129.74 A7.1,1.9500000000000002 0 0 0 657.70,129.74 Z" fill="#3a3a3a"/>
<path d="M668.70,127.67 A7.1,4.15 0 0 1 667.99,132.85 Q670.12,129.74 668.70,127.67 Z" fill="#555"/>
<line x1="671.12" y1="130.31" x2="658.65" y2="130.75" stroke="#222" stroke-width="1.5"/>
<ellipse cx="677.92" cy="137.33" rx="7.1" ry="4.15" fill="none" stroke="#151515" stroke-width="1.1"/>
<path d="M670.82,137.33 A7.1,4.15 0 0 1 685.02,137.33 A7.1,1.9500000000000002 0 0 0 670.82,137.33 Z" fill="#3a3a3a"/>
<path d="M681.82,135.26 A7.1,4.15 0 0 1 681.11,140.45 Q683.24,137.33 681.82,135.26 Z" fill="#555"/>
<line x1="680.29" y1="140.80" x2="671.53" y2="137.38" stroke="#222" stroke-width="0.9"/>
<ellipse cx="691.04" cy="144.92" rx="7.1" ry="4.15" fill="none" stroke="#151515" stroke-width="1.1"/>
<path d="M683.94,144.92 A7.1,4.15 0 0 1 698.14,144.92 A7.1,1.9500000000000002 0 0 0 683.94,144.92 Z" fill="#3a3a3a"/>
<path d="M694.94,142.85 A7.1,4.15 0 0 1 694.23,148.04 Q696.36,144.92 694.94,142.85 Z" fill="#555"/>
<line x1="685.43" y1="143.14" x2="696.00" y2="142.57" stroke="#222" stroke-width="1.5"/>
<ellipse cx="704.16" cy="152.52" rx="7.1" ry="4.15" fill="none" stroke="#151515" stroke-width="1.1"/>
<path d="M697.06,152.52 A7.1,4.15 0 0 1 711.26,152.52 A7.1,1.9500000000000002 0 0 0 697.06,152.52 Z" fill="#3a3a3a"/>
<path d="M700.25,150.44 A7.1,4.15 0 0 0 700.96,155.63 Q698.83,152.52 700.25,150.44 Z" fill="#555"/>
<line x1="699.22" y1="154.88" x2="704.50" y2="148.79" stroke="#222" stroke-width="1.2"/>
<line x1="698.38" y1="154.11" x2="707.27" y2="149.26" stroke="#222" stroke-width="0.9"/>
<ellipse cx="717.28" cy="160.11" rx="7.1" ry="4.15" fill="none" stroke="#151515" stroke-width="1.1"/>
<path d="M710.18,160.11 A7.1,4.15 0 0 1 724.38,160.11 A7.1,1.9500000000000002 0 0 0 710.18,160.11 Z" fill="#3a3a3a"/>
<path d="M713.37,158.03 A7.1,4.15 0 0 0 714.08,163.22 Q711.95,160.11 713.37,158.03 Z" fill="#555"/>
<line x1="719.95" y1="163.50" x2="711.26" y2="158.86" stroke="#222" stroke-width="1.5"/>
<ellipse cx="642.97" cy="104.44" rx="7.1" ry="4.15" fill="none" stroke="#151515" stroke-width="1.1"/>
<path d="M635.87,104.44 A7.1,4.15 0 0 1 650.07,104.44 A7.1,1.9500000000000002 0 0 0 635.87,104.44 Z" fill="#3a3a3a"/>
<path d="M639.07,102.36 A7.1,4.15 0 0 0 639.78,107.55 Q637.65,104.44 639.07,102.36 Z" fill="#555"/>
<line x1="648.27" y1="106.53" x2="636.72" y2="103.68" stroke="#222" stroke-width="1.2"/>
<ellipse cx="656.09" cy="112.03" rx="7.1" ry="4.15" fill="none" stroke="#151515" stroke-width="1.1"/>
<path d="M648.99,112.03 A7.1,4.15 0 0 1 663.19,112.03 A7.1,1.9500000000000002 0 0 0 648.99,112.03 Z" fill="#3a3a3a"/>
<path d="M660.00,109.95 A7.1,4.15 0 0 1 659.29,115.14 Q661.42,112.03 660.00,109.95 Z" fill="#555"/>
<line x1="649.71" y1="111.93" x2="662.42" y2="111.52" stroke="#222" stroke-width="1.2"/>
<ellipse cx="669.21" cy="119.62" rx="7.1" ry="4.15" fill="none" stroke="#151515" stroke-width="1.1"/>
<path d="M662.11,119.62 A7.1,4.15 0 0 1 676.31,119.62 A7.1,1.9500000000000002 0 0 0 662.11,119.62 Z" fill="#3a3a3a"/>
<path d="M665.31,117.54 A7.1,4.15 0 0 0 666.02,122.73 Q663.89,119.62 665.31,117.54 Z" fill="#555"/>
<line x1="671.72" y1="116.18" x2="672.00" y2="122.98" stroke="#222" stroke-width="1.2"/>
<ellipse cx="682.33" cy="127.21" rx="7.1" ry="4.15" fill="none" stroke="#151515" stroke-width="1.1"/>
<path d="M675.23,127.21 A7.1,4.15 0 0 1 689.43,127.21 A7.1,1.9500000000000002 0 0 0 675.23,127.21 Z" fill="#3a3a3a"/>
<path d="M686.24,125.14 A7.1,4.15 0 0 1 685.53,130.32 Q687.66,127.21 686.24,125.14 Z" fill="#555"/>
<line x1="682.93" y1="123.49" x2="686.74" y2="129.91" stroke="#222" stroke-width="1.5"/>
<line x1="684.88" y1="130.64" x2="677.77" y2="124.59" stroke="#222" stroke-width="1.2"/>
<ellipse cx="695.45" cy="134.80" rx="7.1" ry="4.15" fill="none" stroke="#151515" stroke-width="1.1"/>
<path d="M688.35,134.80 A7.1,4.15 0 0 1 702.55,134.80 A7.1,1.9500000000000002 0 0 0 688.35,134.80 Z" fill="#3a3a3a"/>
<path d="M691.55,132.73 A7.1,4.15 0 0 0 692.26,137.91 Q690.13,134.80 691.55,132.73 Z" fill="#555"/>
<line x1="701.83" y1="134.57" x2="689.39" y2="135.98" stroke="#222" stroke-width="0.9"/>
<line x1="696.17" y1="138.51" x2="693.43" y2="131.26" stroke="#222" stroke-width="1.5"/>
<ellipse cx="708.57" cy="142.39" rx="7.1" ry="4.15" fill="none" stroke="#151515" stroke-width="1.1"/>
<path d="M701.47,142.39 A7.1,4.15 0 0 1 715.67,142.39 A7.1,1.9500000000000002 0 0 0 701.47,142.39 Z" fill="#3a3a3a"/>
<path d="M704.67,140.32 A7.1,4.15 0 0 0 705.38,145.51 Q703.25,142.39 704.67,140.32 Z" fill="#555"/>
<line x1="702.78" y1="140.82" x2="714.73" y2="141.41" stroke="#222" stroke-width="1.2"/>
<line x1="702.21" y1="142.06" x2="713.64" y2="140.12" stroke="#222" stroke-width="0.9"/>
<ellipse cx="721.69" cy="149.98" rx="7.1" ry="4.15" fill="none" stroke="#151515" stroke-width="1.1"/>
<path d="M714.59,149.98 A7.1,4.15 0 0 1 728.79,149.98 A7.1,1.9500000000000002 0 0 0 714.59,149.98 Z" fill="#3a3a3a"/>
<path d="M725.59,147.91 A7.1,4.15 0 0 1 724.88,153.10 Q727.01,149.98 725.59,147.91 Z" fill="#555"/>
<line x1="726.49" y1="152.45" x2="716.06" y2="151.75" stroke="#222" stroke-width="0.9"/>
<ellipse cx="734.81" cy="157.58" rx="7.1" ry="4.15" fill="none" stroke="#151515" stroke-width="1.1"/>
<path d="M727.71,157.58 A7.1,4.15 0 0 1 741.91,157.58 A7.1,2.45 0 0 0 727.71,157.58 Z" fill="#3a3a3a"/>
<ellipse cx="660.51" cy="101.90" rx="7.1" ry="4.15" fill="none" stroke="#151515" stroke-width="1.1"/>
<path d="M653.41,101.90 A7.1,4.15 0 0 1 667.61,101.90 A7.1,1.9500000000000002 0 0 0 653.41,101.90 Z" fill="#3a3a3a"/>
<path d="M656.60,99.83 A7.1,4.15 0 0 0 657.31,105.02 Q655.18,101.90 656.60,99.83 Z" fill="#555"/>
<line x1="656.68" y1="98.91" x2="666.39" y2="100.45" stroke="#222" stroke-width="1.2"/>
<ellipse cx="673.63" cy="109.50" rx="7.1" ry="4.15" fill="none" stroke="#151515" stroke-width="1.1"/>
<path d="M666.53,109.50 A7.1,4.15 0 0 1 680.73,109.50 A7.1,1.9500000000000002 0 0 0 666.53,109.50 Z" fill="#3a3a3a"/>
<path d="M677.53,107.42 A7.1,4.15 0 0 1 676.82,112.61 Q678.95,109.50 677.53,107.42 Z" fill="#555"/>
<line x1="679.88" y1="108.72" x2="669.50" y2="112.35" stroke="#222" stroke-width="0.9"/>
<line x1="669.48" y1="106.65" x2="679.25" y2="111.27" stroke="#222" stroke-width="0.9"/>
<ellipse cx="686.75" cy="117.09" rx="7.1" ry="4.15" fill="none" stroke="#151515" stroke-width="1.1"/>
<path d="M679.65,117.09 A7.1,4.15 0 0 1 693.85,117.09 A7.1,1.9500000000000002 0 0 0 679.65,117.09 Z" fill="#3a3a3a"/>
<path d="M682.84,115.01 A7.1,4.15 0 0 0 683.55,120.20 Q681.42,117.09 682.84,115.01 Z" fill="#555"/>
<line x1="692.52" y1="115.49" x2="686.88" y2="120.82" stroke="#222" stroke-width="1.2"/>
<line x1="693.02" y1="116.38" x2="681.16" y2="118.90" stroke="#222" stroke-width="1.5"/>
<ellipse cx="699.86" cy="124.68" rx="7.1" ry="4.15" fill="none" stroke="#151515" stroke-width="1.1"/>
<path d="M692.76,124.68 A7.1,4.15 0 0 1 706.96,124.68 A7.1,1.9500000000000002 0 0 0 692.76,124.68 Z" fill="#3a3a3a"/>
<path d="M695.96,122.60 A7.1,4.15 0 0 0 696.67,127.79 Q694.54,124.68 695.96,122.60 Z" fill="#555"/>
<line x1="705.87" y1="123.41" x2="697.45" y2="128.14" stroke="#222" stroke-width="1.5"/>
<line x1="694.73" y1="126.91" x2="699.64" y2="120.95" stroke="#222" stroke-width="1.5"/>
<ellipse cx="712.98" cy="132.27" rx="7.1" ry="4.15" fill="none" stroke="#151515" stroke-width="1.1"/>
<path d="M705.88,132.27 A7.1,4.15 0 0 1 720.08,132.27 A7.1,1.9500000000000002 0 0 0 705.88,132.27 Z" fill="#3a3a3a"/>
<path d="M716.89,130.20 A7.1,4.15 0 0 1 716.18,135.38 Q718.31,132.27 716.89,130.20 Z" fill="#555"/>
<line x1="709.67" y1="129.08" x2="718.32" y2="134.32" stroke="#222" stroke-width="0.9"/>
<line x1="719.35" y1="132.60" x2="709.32" y2="135.33" stroke="#222" stroke-width="0.9"/>
<ellipse cx="726.10" cy="139.86" rx="7.1" ry="4.15" fill="none" stroke="#151515" stroke-width="1.1"/>
<path d="M719.00,139.86 A7.1,4.15 0 0 1 733.20,139.86 A7.1,1.9500000000000002 0 0 0 719.00,139.86 Z" fill="#3a3a3a"/>
<path d="M730.01,137.79 A7.1,4.15 0 0 1 729.30,142.97 Q731.43,139.86 730.01,137.79 Z" fill="#555"/>
<line x1="732.15" y1="141.08" x2="720.95" y2="142.07" stroke="#222" stroke-width="1.2"/>
<line x1="732.18" y1="141.02" x2="719.79" y2="139.27" stroke="#222" stroke-width="1.2"/>
<ellipse cx="739.22" cy="147.45" rx="7.1" ry="4.15" fill="none" stroke="#151515" stroke-width="1.1"/>
<path d="M732.12,147.45 A7.1,4.15 0 0 1 746.32,147.45 A7.1,1.9500000000000002 0 0 0 732.12,147.45 Z" fill="#3a3a3a"/>
<path d="M735.32,145.38 A7.1,4.15 0 0 0 736.03,150.57 Q733.90,147.45 735.32,145.38 Z" fill="#555"/>
<line x1="737.98" y1="143.79" x2="745.26" y2="148.68" stroke="#222" stroke-width="0.9"/>
<line x1="745.35" y1="148.50" x2="735.44" y2="150.47" stroke="#222" stroke-width="1.5"/>
<ellipse cx="664.92" cy="91.78" rx="7.1" ry="4.15" fill="none" stroke="#151515" stroke-width="1.1"/>
<path d="M657.82,91.78 A7.1,4.15 0 0 1 672.02,91.78 A7.1,1.9500000000000002 0 0 0 657.82,91.78 Z" fill="#3a3a3a"/>
<path d="M661.02,89.71 A7.1,4.15 0 0 0 661.73,94.89 Q659.60,91.78 661.02,89.71 Z" fill="#555"/>
<line x1="659.83" y1="89.52" x2="670.35" y2="89.82" stroke="#222" stroke-width="1.5"/>
<ellipse cx="678.04" cy="99.37" rx="7.1" ry="4.15" fill="none" stroke="#151515" stroke-width="1.1"/>
<path d="M670.94,99.37 A7.1,4.15 0 0 1 685.14,99.37 A7.1,1.9500000000000002 0 0 0 670.94,99.37 Z" fill="#3a3a3a"/>
<path d="M674.14,97.30 A7.1,4.15 0 0 0 674.85,102.49 Q672.72,99.37 674.14,97.30 Z" fill="#555"/>
<line x1="682.13" y1="96.51" x2="679.42" y2="103.02" stroke="#222" stroke-width="0.9"/>
<ellipse cx="691.16" cy="106.96" rx="7.1" ry="4.15" fill="none" stroke="#151515" stroke-width="1.1"/>
<path d="M684.06,106.96 A7.1,4.15 0 0 1 698.26,106.96 A7.1,1.9500000000000002 0 0 0 684.06,106.96 Z" fill="#3a3a3a"/>
<path d="M695.06,104.89 A7.1,4.15 0 0 1 694.35,110.08 Q696.48,106.96 695.06,104.89 Z" fill="#555"/>
<line x1="688.00" y1="103.72" x2="697.34" y2="107.92" stroke="#222" stroke-width="1.2"/>
<ellipse cx="704.28" cy="114.56" rx="7.1" ry="4.15" fill="none" stroke="#151515" stroke-width="1.1"/>
<path d="M697.18,114.56 A7.1,4.15 0 0 1 711.38,114.56 A7.1,1.9500000000000002 0 0 0 697.18,114.56 Z" fill="#3a3a3a"/>
<path d="M708.18,112.48 A7.1,4.15 0 0 1 707.47,117.67 Q709.60,114.56 708.18,112.48 Z" fill="#555"/>
<line x1="705.38" y1="110.88" x2="707.52" y2="117.78" stroke="#222" stroke-width="0.9"/>
<line x1="710.38" y1="113.45" x2="699.65" y2="117.13" stroke="#222" stroke-width="0.9"/>
<ellipse cx="717.40" cy="122.15" rx="7.1" ry="4.15" fill="none" stroke="#151515" stroke-width="1.1"/>
<path d="M710.30,122.15 A7.1,4.15 0 0 1 724.50,122.15 A7.1,1.9500000000000002 0 0 0 710.30,122.15 Z" fill="#3a3a3a"/>
<path d="M721.30,120.07 A7.1,4.15 0 0 1 720.59,125.26 Q722.72,122.15 721.30,120.07 Z" fill="#555"/>
<line x1="716.41" y1="125.84" x2="714.59" y2="118.79" stroke="#222" stroke-width="1.5"/>
<line x1="711.53" y1="120.67" x2="723.63" y2="121.31" stroke="#222" stroke-width="1.5"/>
<ellipse cx="730.52" cy="129.74" rx="7.1" ry="4.15" fill="none" stroke="#151515" stroke-width="1.1"/>
<path d="M723.42,129.74 A7.1,4.15 0 0 1 737.62,129.74 A7.1,1.9500000000000002 0 0 0 723.42,129.74 Z" fill="#3a3a3a"/>
<path d="M726.61,127.66 A7.1,4.15 0 0 0 727.32,132.85 Q725.19,129.74 726.61,127.66 Z" fill="#555"/>
<line x1="736.61" y1="128.62" x2="727.31" y2="132.97" stroke="#222" stroke-width="1.5"/>
<ellipse cx="743.64" cy="137.33" rx="7.1" ry="4.15" fill="none" stroke="#151515" stroke-width="1.1"/>
<path d="M736.54,137.33 A7.1,4.15 0 0 1 750.74,137.33 A7.1,1.9500000000000002 0 0 0 736.54,137.33 Z" fill="#3a3a3a"/>
<path d="M739.73,135.26 A7.1,4.15 0 0 0 740.44,140.44 Q738.31,137.33 739.73,135.26 Z" fill="#555"/>
<line x1="750.01" y1="137.55" x2="740.03" y2="140.41" stroke="#222" stroke-width="0.9"/>
<ellipse cx="756.76" cy="144.92" rx="7.1" ry="4.15" fill="none" stroke="#151515" stroke-width="1.1"/>
<path d="M749.66,144.92 A7.1,4.15 0 0 1 763.86,144.92 A7.1,1.9500000000000002 0 0 0 749.66,144.92 Z" fill="#3a3a3a"/>
<path d="M752.85,142.85 A7.1,4.15 0 0 0 753.56,148.03 Q751.43,144.92 752.85,142.85 Z" fill="#555"/>
<line x1="750.58" y1="143.96" x2="760.24" y2="141.79" stroke="#222" stroke-width="0.9"/>
<line x1="494.50" y1="181.20" x2="494.50" y2="202.20" stroke="#222" stroke-width="1.1" />
<path d="M494.3,202.2 L494.9,203.5 V209.7" fill="none" stroke="#222" stroke-width="1.0" />
<line x1="495.00" y1="205.40" x2="603.40" y2="268.20" stroke="#222" stroke-width="1.0" />
<path d="M590.30,259.50 L603.40,267.20 L603.40,315.00 L590.30,302.00 Z" fill="#fff" stroke="none" stroke-width="0" />
<line x1="592.50" y1="263.80" x2="592.50" y2="287.50" stroke="#222" stroke-width="0.9" />
<line x1="592.60" y1="263.80" x2="603.40" y2="270.20" stroke="#222" stroke-width="0.8" />
<line x1="592.60" y1="268.00" x2="603.40" y2="274.40" stroke="#222" stroke-width="0.7" />
<line x1="592.60" y1="285.80" x2="603.40" y2="292.20" stroke="#222" stroke-width="0.8" />
<ellipse cx="597.6" cy="279.2" rx="5" ry="7" fill="#3a3a3a" stroke="#111" stroke-width="0.8"/>
<ellipse cx="598.3" cy="279.4" rx="3.2" ry="4.8" fill="none" stroke="#ddd" stroke-width="0.6"/>
<line x1="596.00" y1="276.00" x2="600.50" y2="282.50" stroke="#ddd" stroke-width="0.6" />
<line x1="600.30" y1="275.80" x2="595.80" y2="282.80" stroke="#ddd" stroke-width="0.6" />
<line x1="570.00" y1="296.10" x2="603.40" y2="313.90" stroke="#222" stroke-width="1.0" />
<line x1="570.00" y1="293.00" x2="603.40" y2="310.80" stroke="#222" stroke-width="0.8" />
<line x1="583.50" y1="289.70" x2="603.40" y2="300.50" stroke="#222" stroke-width="0.8" />
<line x1="589.90" y1="286.90" x2="603.40" y2="294.00" stroke="#222" stroke-width="0.8" />
<path d="M472.60,254.60 L472.60,224.90 Q472.60,222.50 474.50,221.50 L498.80,208.50 L506.20,212.80 L506.20,238.60 L475.00,254.80 Q473.50,255.50 472.60,254.60 Z" fill="#fff" stroke="#222" stroke-width="1.0" />
<line x1="474.50" y1="223.70" x2="474.50" y2="254.70" stroke="#222" stroke-width="0.8" />
<line x1="474.10" y1="223.20" x2="499.10" y2="209.30" stroke="#222" stroke-width="0.8" />
<line x1="506.20" y1="212.90" x2="506.20" y2="238.60" stroke="#222" stroke-width="1.3" />
<path d="M488.00,219.62 L503.70,210.92 L515.70,218.12 L499.10,226.92 Z" fill="#fff" stroke="#222" stroke-width="0.9" />
<path d="M488.00,219.62 L499.10,226.92 L499.10,233.52 L488.00,233.52 Z" fill="#fff" stroke="none" stroke-width="0" />
<line x1="488.50" y1="219.62" x2="488.50" y2="227.02" stroke="#222" stroke-width="0.9" />
<path d="M485.60,227.72 L489.00,226.52 L492.90,229.32 L489.90,233.02 L485.60,232.32 Z" fill="#fff" stroke="#222" stroke-width="0.8" />
<line x1="486.40" y1="229.82" x2="491.90" y2="230.72" stroke="#222" stroke-width="0.6" />
<path d="M489.20,229.22 A7.4,9.3 0 0 0 489.20,247.82 Z" fill="#8a8a8a" stroke="#111" stroke-width="1.1"/>
<path d="M488.70,230.92 A5.4,7.6 0 0 0 488.70,246.12" fill="none" stroke="#1a1a1a" stroke-width="1.2"/>
<path d="M484.00,235.52 Q487.20,237.52 488.70,239.52 M485.20,232.02 Q485.70,238.52 487.00,245.02 M483.20,241.02 Q486.20,242.02 488.20,243.52" fill="none" stroke="#222" stroke-width="1.0"/>
<path d="M486.00,234.02 L486.60,237.02 M484.60,239.02 L486.00,239.72" fill="none" stroke="#f4f4f4" stroke-width="0.9"/>
<path d="M489.50,264.22 L489.50,234.52 Q489.50,232.12 491.40,231.12 L515.70,218.12 L523.10,222.42 L523.10,248.22 L491.90,264.42 Q490.40,265.12 489.50,264.22 Z" fill="#fff" stroke="#222" stroke-width="1.0" />
<line x1="491.50" y1="233.32" x2="491.50" y2="264.32" stroke="#222" stroke-width="0.8" />
<line x1="491.00" y1="232.82" x2="516.00" y2="218.92" stroke="#222" stroke-width="0.8" />
<line x1="523.10" y1="222.52" x2="523.10" y2="248.22" stroke="#222" stroke-width="1.3" />
<path d="M504.90,229.24 L520.60,220.54 L532.60,227.74 L516.00,236.54 Z" fill="#fff" stroke="#222" stroke-width="0.9" />
<path d="M504.90,229.24 L516.00,236.54 L516.00,243.14 L504.90,243.14 Z" fill="#fff" stroke="none" stroke-width="0" />
<line x1="504.50" y1="229.24" x2="504.50" y2="236.64" stroke="#222" stroke-width="0.9" />
<path d="M502.50,237.34 L505.90,236.14 L509.80,238.94 L506.80,242.64 L502.50,241.94 Z" fill="#fff" stroke="#222" stroke-width="0.8" />
<line x1="503.30" y1="239.44" x2="508.80" y2="240.34" stroke="#222" stroke-width="0.6" />
<path d="M506.10,238.84 A7.4,9.3 0 0 0 506.10,257.44 Z" fill="#8a8a8a" stroke="#111" stroke-width="1.1"/>
<path d="M505.60,240.54 A5.4,7.6 0 0 0 505.60,255.74" fill="none" stroke="#1a1a1a" stroke-width="1.2"/>
<path d="M500.90,245.14 Q504.10,247.14 505.60,249.14 M502.10,241.64 Q502.60,248.14 503.90,254.64 M500.10,250.64 Q503.10,251.64 505.10,253.14" fill="none" stroke="#222" stroke-width="1.0"/>
<path d="M502.90,243.64 L503.50,246.64 M501.50,248.64 L502.90,249.34" fill="none" stroke="#f4f4f4" stroke-width="0.9"/>
<path d="M506.40,273.84 L506.40,244.14 Q506.40,241.74 508.30,240.74 L532.60,227.74 L540.00,232.04 L540.00,257.84 L508.80,274.04 Q507.30,274.74 506.40,273.84 Z" fill="#fff" stroke="#222" stroke-width="1.0" />
<line x1="507.50" y1="242.94" x2="507.50" y2="273.94" stroke="#222" stroke-width="0.8" />
<line x1="507.90" y1="242.44" x2="532.90" y2="228.54" stroke="#222" stroke-width="0.8" />
<line x1="540.00" y1="232.14" x2="540.00" y2="257.84" stroke="#222" stroke-width="1.3" />
<path d="M521.80,238.86 L537.50,230.16 L549.50,237.36 L532.90,246.16 Z" fill="#fff" stroke="#222" stroke-width="0.9" />
<path d="M521.80,238.86 L532.90,246.16 L532.90,252.76 L521.80,252.76 Z" fill="#fff" stroke="none" stroke-width="0" />
<line x1="521.50" y1="238.86" x2="521.50" y2="246.26" stroke="#222" stroke-width="0.9" />
<path d="M519.40,246.96 L522.80,245.76 L526.70,248.56 L523.70,252.26 L519.40,251.56 Z" fill="#fff" stroke="#222" stroke-width="0.8" />
<line x1="520.20" y1="249.06" x2="525.70" y2="249.96" stroke="#222" stroke-width="0.6" />
<path d="M523.00,248.46 A7.4,9.3 0 0 0 523.00,267.06 Z" fill="#8a8a8a" stroke="#111" stroke-width="1.1"/>
<path d="M522.50,250.16 A5.4,7.6 0 0 0 522.50,265.36" fill="none" stroke="#1a1a1a" stroke-width="1.2"/>
<path d="M517.80,254.76 Q521.00,256.76 522.50,258.76 M519.00,251.26 Q519.50,257.76 520.80,264.26 M517.00,260.26 Q520.00,261.26 522.00,262.76" fill="none" stroke="#222" stroke-width="1.0"/>
<path d="M519.80,253.26 L520.40,256.26 M518.40,258.26 L519.80,258.96" fill="none" stroke="#f4f4f4" stroke-width="0.9"/>
<path d="M523.30,283.46 L523.30,253.76 Q523.30,251.36 525.20,250.36 L549.50,237.36 L556.90,241.66 L556.90,267.46 L525.70,283.66 Q524.20,284.36 523.30,283.46 Z" fill="#fff" stroke="#222" stroke-width="1.0" />
<line x1="524.50" y1="252.56" x2="524.50" y2="283.56" stroke="#222" stroke-width="0.8" />
<line x1="524.80" y1="252.06" x2="549.80" y2="238.16" stroke="#222" stroke-width="0.8" />
<line x1="556.90" y1="241.76" x2="556.90" y2="267.46" stroke="#222" stroke-width="1.3" />
<path d="M538.70,248.48 L554.40,239.78 L566.40,246.98 L549.80,255.78 Z" fill="#fff" stroke="#222" stroke-width="0.9" />
<path d="M538.70,248.48 L549.80,255.78 L549.80,262.38 L538.70,262.38 Z" fill="#fff" stroke="none" stroke-width="0" />
<line x1="538.50" y1="248.48" x2="538.50" y2="255.88" stroke="#222" stroke-width="0.9" />
<path d="M536.30,256.58 L539.70,255.38 L543.60,258.18 L540.60,261.88 L536.30,261.18 Z" fill="#fff" stroke="#222" stroke-width="0.8" />
<line x1="537.10" y1="258.68" x2="542.60" y2="259.58" stroke="#222" stroke-width="0.6" />
<path d="M539.90,258.08 A7.4,9.3 0 0 0 539.90,276.68 Z" fill="#8a8a8a" stroke="#111" stroke-width="1.1"/>
<path d="M539.40,259.78 A5.4,7.6 0 0 0 539.40,274.98" fill="none" stroke="#1a1a1a" stroke-width="1.2"/>
<path d="M534.70,264.38 Q537.90,266.38 539.40,268.38 M535.90,260.88 Q536.40,267.38 537.70,273.88 M533.90,269.88 Q536.90,270.88 538.90,272.38" fill="none" stroke="#222" stroke-width="1.0"/>
<path d="M536.70,262.88 L537.30,265.88 M535.30,267.88 L536.70,268.58" fill="none" stroke="#f4f4f4" stroke-width="0.9"/>
<path d="M540.20,293.08 L540.20,263.38 Q540.20,260.98 542.10,259.98 L566.40,246.98 L573.80,251.28 L573.80,277.08 L542.60,293.28 Q541.10,293.98 540.20,293.08 Z" fill="#fff" stroke="#222" stroke-width="1.0" />
<line x1="541.50" y1="262.18" x2="541.50" y2="293.18" stroke="#222" stroke-width="0.8" />
<line x1="541.70" y1="261.68" x2="566.70" y2="247.78" stroke="#222" stroke-width="0.8" />
<line x1="573.80" y1="251.38" x2="573.80" y2="277.08" stroke="#222" stroke-width="1.3" />
<path d="M555.60,258.10 L571.30,249.40 L583.30,256.60 L566.70,265.40 Z" fill="#fff" stroke="#222" stroke-width="0.9" />
<path d="M555.60,258.10 L566.70,265.40 L566.70,272.00 L555.60,272.00 Z" fill="#fff" stroke="none" stroke-width="0" />
<line x1="555.50" y1="258.10" x2="555.50" y2="265.50" stroke="#222" stroke-width="0.9" />
<path d="M553.20,266.20 L556.60,265.00 L560.50,267.80 L557.50,271.50 L553.20,270.80 Z" fill="#fff" stroke="#222" stroke-width="0.8" />
<line x1="554.00" y1="268.30" x2="559.50" y2="269.20" stroke="#222" stroke-width="0.6" />
<path d="M556.80,267.70 A7.4,9.3 0 0 0 556.80,286.30 Z" fill="#8a8a8a" stroke="#111" stroke-width="1.1"/>
<path d="M556.30,269.40 A5.4,7.6 0 0 0 556.30,284.60" fill="none" stroke="#1a1a1a" stroke-width="1.2"/>
<path d="M551.60,274.00 Q554.80,276.00 556.30,278.00 M552.80,270.50 Q553.30,277.00 554.60,283.50 M550.80,279.50 Q553.80,280.50 555.80,282.00" fill="none" stroke="#222" stroke-width="1.0"/>
<path d="M553.60,272.50 L554.20,275.50 M552.20,277.50 L553.60,278.20" fill="none" stroke="#f4f4f4" stroke-width="0.9"/>
<path d="M557.10,302.70 L557.10,273.00 Q557.10,270.60 559.00,269.60 L583.30,256.60 L590.70,260.90 L590.70,286.70 L559.50,302.90 Q558.00,303.60 557.10,302.70 Z" fill="#fff" stroke="#222" stroke-width="1.0" />
<line x1="558.50" y1="271.80" x2="558.50" y2="302.80" stroke="#222" stroke-width="0.8" />
<line x1="558.60" y1="271.30" x2="583.60" y2="257.40" stroke="#222" stroke-width="0.8" />
<line x1="590.70" y1="261.00" x2="590.70" y2="286.70" stroke="#222" stroke-width="1.3" />
</svg></body></html>
